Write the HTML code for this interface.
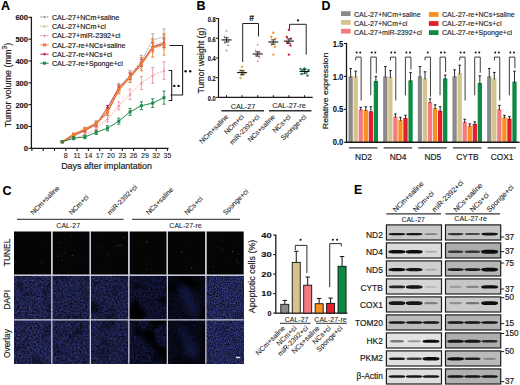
<!DOCTYPE html>
<html><head><meta charset="utf-8"><title>Figure</title>
<style>html,body{margin:0;padding:0;background:#fff;}body{width:520px;height:385px;overflow:hidden;font-family:"Liberation Sans", sans-serif;}svg{display:block;}</style>
</head><body>
<svg width="520" height="385" viewBox="0 0 520 385" font-family='"Liberation Sans", sans-serif'><defs><filter id="f10" x="0" y="0" width="1" height="1" color-interpolation-filters="sRGB"><feTurbulence type="fractalNoise" baseFrequency="0.55" numOctaves="2" seed="11" result="n"/><feColorMatrix in="n" type="matrix" values="0.288 0 0 0 -0.024 0.324 0 0 0 -0.027 0.720 0 0 0 -0.060 0 0 0 0 1" result="c"/><feTurbulence type="fractalNoise" baseFrequency="0.07" numOctaves="2" seed="61" result="m"/><feColorMatrix in="m" type="matrix" values="1.200 0 0 0 0.400 1.200 0 0 0 0.400 1.200 0 0 0 0.400 0 0 0 0 1" result="mm"/><feComposite in="c" in2="mm" operator="arithmetic" k1="1" k2="0" k3="0" k4="0"/></filter><filter id="f11" x="0" y="0" width="1" height="1" color-interpolation-filters="sRGB"><feTurbulence type="fractalNoise" baseFrequency="0.55" numOctaves="2" seed="18" result="n"/><feColorMatrix in="n" type="matrix" values="0.264 0 0 0 -0.022 0.298 0 0 0 -0.025 0.672 0 0 0 -0.056 0 0 0 0 1" result="c"/><feTurbulence type="fractalNoise" baseFrequency="0.07" numOctaves="2" seed="68" result="m"/><feColorMatrix in="m" type="matrix" values="1.200 0 0 0 0.400 1.200 0 0 0 0.400 1.200 0 0 0 0.400 0 0 0 0 1" result="mm"/><feComposite in="c" in2="mm" operator="arithmetic" k1="1" k2="0" k3="0" k4="0"/></filter><filter id="f12" x="0" y="0" width="1" height="1" color-interpolation-filters="sRGB"><feTurbulence type="fractalNoise" baseFrequency="0.55" numOctaves="2" seed="25" result="n"/><feColorMatrix in="n" type="matrix" values="0.252 0 0 0 -0.021 0.283 0 0 0 -0.024 0.648 0 0 0 -0.054 0 0 0 0 1" result="c"/><feTurbulence type="fractalNoise" baseFrequency="0.05" numOctaves="2" seed="75" result="m"/><feColorMatrix in="m" type="matrix" values="1.800 0 0 0 0.100 1.800 0 0 0 0.100 1.800 0 0 0 0.100 0 0 0 0 1" result="mm"/><feComposite in="c" in2="mm" operator="arithmetic" k1="1" k2="0" k3="0" k4="0"/></filter><filter id="f13" x="0" y="0" width="1" height="1" color-interpolation-filters="sRGB"><feTurbulence type="fractalNoise" baseFrequency="0.55" numOctaves="2" seed="32" result="n"/><feColorMatrix in="n" type="matrix" values="0.165 0 0 0 -0.028 0.186 0 0 0 -0.031 0.495 0 0 0 -0.082 0 0 0 0 1" result="c"/><feTurbulence type="fractalNoise" baseFrequency="0.055" numOctaves="2" seed="82" result="m"/><feColorMatrix in="m" type="matrix" values="4.800 0 0 0 -1.400 4.800 0 0 0 -1.400 4.800 0 0 0 -1.400 0 0 0 0 1" result="mm"/><feComposite in="c" in2="mm" operator="arithmetic" k1="1" k2="0" k3="0" k4="0"/></filter><filter id="f14" x="0" y="0" width="1" height="1" color-interpolation-filters="sRGB"><feTurbulence type="fractalNoise" baseFrequency="0.55" numOctaves="2" seed="39" result="n"/><feColorMatrix in="n" type="matrix" values="0.098 0 0 0 -0.014 0.112 0 0 0 -0.016 0.280 0 0 0 -0.040 0 0 0 0 1" result="c"/><feTurbulence type="fractalNoise" baseFrequency="0.04" numOctaves="2" seed="89" result="m"/><feColorMatrix in="m" type="matrix" values="4.000 0 0 0 -1.000 4.000 0 0 0 -1.000 4.000 0 0 0 -1.000 0 0 0 0 1" result="mm"/><feComposite in="c" in2="mm" operator="arithmetic" k1="1" k2="0" k3="0" k4="0"/></filter><filter id="f15" x="0" y="0" width="1" height="1" color-interpolation-filters="sRGB"><feTurbulence type="fractalNoise" baseFrequency="0.85" numOctaves="2" seed="46" result="n"/><feColorMatrix in="n" type="matrix" values="0.338 0 0 0 -0.039 0.390 0 0 0 -0.045 0.884 0 0 0 -0.102 0 0 0 0 1" result="c"/><feTurbulence type="fractalNoise" baseFrequency="0.09" numOctaves="2" seed="96" result="m"/><feColorMatrix in="m" type="matrix" values="0.800 0 0 0 0.600 0.800 0 0 0 0.600 0.800 0 0 0 0.600 0 0 0 0 1" result="mm"/><feComposite in="c" in2="mm" operator="arithmetic" k1="1" k2="0" k3="0" k4="0"/></filter><filter id="f20" x="0" y="0" width="1" height="1" color-interpolation-filters="sRGB"><feTurbulence type="fractalNoise" baseFrequency="0.55" numOctaves="2" seed="12" result="n"/><feColorMatrix in="n" type="matrix" values="0.288 0 0 0 -0.024 0.324 0 0 0 -0.027 0.720 0 0 0 -0.060 0 0 0 0 1" result="c"/><feTurbulence type="fractalNoise" baseFrequency="0.07" numOctaves="2" seed="62" result="m"/><feColorMatrix in="m" type="matrix" values="1.200 0 0 0 0.400 1.200 0 0 0 0.400 1.200 0 0 0 0.400 0 0 0 0 1" result="mm"/><feComposite in="c" in2="mm" operator="arithmetic" k1="1" k2="0" k3="0" k4="0"/></filter><filter id="f21" x="0" y="0" width="1" height="1" color-interpolation-filters="sRGB"><feTurbulence type="fractalNoise" baseFrequency="0.55" numOctaves="2" seed="19" result="n"/><feColorMatrix in="n" type="matrix" values="0.264 0 0 0 -0.022 0.298 0 0 0 -0.025 0.672 0 0 0 -0.056 0 0 0 0 1" result="c"/><feTurbulence type="fractalNoise" baseFrequency="0.07" numOctaves="2" seed="69" result="m"/><feColorMatrix in="m" type="matrix" values="1.200 0 0 0 0.400 1.200 0 0 0 0.400 1.200 0 0 0 0.400 0 0 0 0 1" result="mm"/><feComposite in="c" in2="mm" operator="arithmetic" k1="1" k2="0" k3="0" k4="0"/></filter><filter id="f22" x="0" y="0" width="1" height="1" color-interpolation-filters="sRGB"><feTurbulence type="fractalNoise" baseFrequency="0.55" numOctaves="2" seed="26" result="n"/><feColorMatrix in="n" type="matrix" values="0.252 0 0 0 -0.021 0.283 0 0 0 -0.024 0.648 0 0 0 -0.054 0 0 0 0 1" result="c"/><feTurbulence type="fractalNoise" baseFrequency="0.05" numOctaves="2" seed="76" result="m"/><feColorMatrix in="m" type="matrix" values="1.800 0 0 0 0.100 1.800 0 0 0 0.100 1.800 0 0 0 0.100 0 0 0 0 1" result="mm"/><feComposite in="c" in2="mm" operator="arithmetic" k1="1" k2="0" k3="0" k4="0"/></filter><filter id="f23" x="0" y="0" width="1" height="1" color-interpolation-filters="sRGB"><feTurbulence type="fractalNoise" baseFrequency="0.55" numOctaves="2" seed="33" result="n"/><feColorMatrix in="n" type="matrix" values="0.165 0 0 0 -0.028 0.186 0 0 0 -0.031 0.495 0 0 0 -0.082 0 0 0 0 1" result="c"/><feTurbulence type="fractalNoise" baseFrequency="0.055" numOctaves="2" seed="83" result="m"/><feColorMatrix in="m" type="matrix" values="4.800 0 0 0 -1.400 4.800 0 0 0 -1.400 4.800 0 0 0 -1.400 0 0 0 0 1" result="mm"/><feComposite in="c" in2="mm" operator="arithmetic" k1="1" k2="0" k3="0" k4="0"/></filter><filter id="f24" x="0" y="0" width="1" height="1" color-interpolation-filters="sRGB"><feTurbulence type="fractalNoise" baseFrequency="0.55" numOctaves="2" seed="40" result="n"/><feColorMatrix in="n" type="matrix" values="0.098 0 0 0 -0.014 0.112 0 0 0 -0.016 0.280 0 0 0 -0.040 0 0 0 0 1" result="c"/><feTurbulence type="fractalNoise" baseFrequency="0.04" numOctaves="2" seed="90" result="m"/><feColorMatrix in="m" type="matrix" values="4.000 0 0 0 -1.000 4.000 0 0 0 -1.000 4.000 0 0 0 -1.000 0 0 0 0 1" result="mm"/><feComposite in="c" in2="mm" operator="arithmetic" k1="1" k2="0" k3="0" k4="0"/></filter><filter id="f25" x="0" y="0" width="1" height="1" color-interpolation-filters="sRGB"><feTurbulence type="fractalNoise" baseFrequency="0.85" numOctaves="2" seed="47" result="n"/><feColorMatrix in="n" type="matrix" values="0.338 0 0 0 -0.039 0.390 0 0 0 -0.045 0.884 0 0 0 -0.102 0 0 0 0 1" result="c"/><feTurbulence type="fractalNoise" baseFrequency="0.09" numOctaves="2" seed="97" result="m"/><feColorMatrix in="m" type="matrix" values="0.800 0 0 0 0.600 0.800 0 0 0 0.600 0.800 0 0 0 0.600 0 0 0 0 1" result="mm"/><feComposite in="c" in2="mm" operator="arithmetic" k1="1" k2="0" k3="0" k4="0"/></filter><filter id="strk" x="-50%" y="-50%" width="200%" height="200%"><feGaussianBlur stdDeviation="3"/></filter><clipPath id="cc4"><rect x="168.00" y="276.00" width="37.20" height="87.70"/></clipPath><filter id="bl" x="-20%" y="-100%" width="140%" height="300%"><feGaussianBlur stdDeviation="0.7"/></filter></defs><text x="0.90" y="9.90" font-size="12.5" text-anchor="start" font-weight="bold" fill="#000" stroke="#000" stroke-width="0.12">A</text>
<text x="196.40" y="10.10" font-size="12.5" text-anchor="start" font-weight="bold" fill="#000" stroke="#000" stroke-width="0.12">B</text>
<text x="321.50" y="9.90" font-size="12.3" text-anchor="start" font-weight="bold" fill="#000" stroke="#000" stroke-width="0.12">D</text>
<text x="2.60" y="194.70" font-size="12.5" text-anchor="start" font-weight="bold" fill="#000" stroke="#000" stroke-width="0.12">C</text>
<text x="354.00" y="193.50" font-size="12.3" text-anchor="start" font-weight="bold" fill="#000" stroke="#000" stroke-width="0.12">E</text>
<line x1="31.40" y1="16.82" x2="31.40" y2="148.80" stroke="#1a1a1a" stroke-width="1.3"/>
<line x1="28.40" y1="148.30" x2="31.40" y2="148.30" stroke="#1a1a1a" stroke-width="1.1"/>
<text x="28.00" y="151.20" font-size="7.6" text-anchor="end" font-weight="bold" fill="#111" stroke="#111" stroke-width="0.12">0</text>
<line x1="28.40" y1="126.47" x2="31.40" y2="126.47" stroke="#1a1a1a" stroke-width="1.1"/>
<text x="28.00" y="129.37" font-size="7.6" text-anchor="end" font-weight="bold" fill="#111" stroke="#111" stroke-width="0.12" textLength="12.6" lengthAdjust="spacingAndGlyphs">100</text>
<line x1="28.40" y1="104.64" x2="31.40" y2="104.64" stroke="#1a1a1a" stroke-width="1.1"/>
<text x="28.00" y="107.54" font-size="7.6" text-anchor="end" font-weight="bold" fill="#111" stroke="#111" stroke-width="0.12" textLength="12.6" lengthAdjust="spacingAndGlyphs">200</text>
<line x1="28.40" y1="82.81" x2="31.40" y2="82.81" stroke="#1a1a1a" stroke-width="1.1"/>
<text x="28.00" y="85.71" font-size="7.6" text-anchor="end" font-weight="bold" fill="#111" stroke="#111" stroke-width="0.12" textLength="12.6" lengthAdjust="spacingAndGlyphs">300</text>
<line x1="28.40" y1="60.98" x2="31.40" y2="60.98" stroke="#1a1a1a" stroke-width="1.1"/>
<text x="28.00" y="63.88" font-size="7.6" text-anchor="end" font-weight="bold" fill="#111" stroke="#111" stroke-width="0.12" textLength="12.6" lengthAdjust="spacingAndGlyphs">400</text>
<line x1="28.40" y1="39.15" x2="31.40" y2="39.15" stroke="#1a1a1a" stroke-width="1.1"/>
<text x="28.00" y="42.05" font-size="7.6" text-anchor="end" font-weight="bold" fill="#111" stroke="#111" stroke-width="0.12" textLength="12.6" lengthAdjust="spacingAndGlyphs">500</text>
<line x1="28.40" y1="17.32" x2="31.40" y2="17.32" stroke="#1a1a1a" stroke-width="1.1"/>
<text x="28.00" y="20.22" font-size="7.6" text-anchor="end" font-weight="bold" fill="#111" stroke="#111" stroke-width="0.12" textLength="12.6" lengthAdjust="spacingAndGlyphs">600</text>
<text x="10.60" y="85.00" font-size="9.0" text-anchor="middle" fill="#1a1a1a" stroke="#1a1a1a" stroke-width="0.18" transform="rotate(-90 10.6 85)">Tumor volume (mm<tspan font-size="6.6" dy="-3.4">3</tspan><tspan dy="3.4">)</tspan></text>
<line x1="30.80" y1="148.30" x2="168.50" y2="148.30" stroke="#1a1a1a" stroke-width="1.3"/>
<line x1="31.90" y1="148.30" x2="31.90" y2="150.90" stroke="#1a1a1a" stroke-width="1.1"/>
<line x1="43.20" y1="148.30" x2="43.20" y2="150.90" stroke="#1a1a1a" stroke-width="1.1"/>
<line x1="54.50" y1="148.30" x2="54.50" y2="150.90" stroke="#1a1a1a" stroke-width="1.1"/>
<line x1="65.80" y1="148.30" x2="65.80" y2="150.90" stroke="#1a1a1a" stroke-width="1.1"/>
<text x="65.80" y="158.30" font-size="7.0" text-anchor="middle" fill="#1a1a1a" stroke="#1a1a1a" stroke-width="0.081">8</text>
<line x1="77.10" y1="148.30" x2="77.10" y2="150.90" stroke="#1a1a1a" stroke-width="1.1"/>
<text x="77.10" y="158.30" font-size="7.0" text-anchor="middle" fill="#1a1a1a" stroke="#1a1a1a" stroke-width="0.081">11</text>
<line x1="88.40" y1="148.30" x2="88.40" y2="150.90" stroke="#1a1a1a" stroke-width="1.1"/>
<text x="88.40" y="158.30" font-size="7.0" text-anchor="middle" fill="#1a1a1a" stroke="#1a1a1a" stroke-width="0.081">14</text>
<line x1="99.70" y1="148.30" x2="99.70" y2="150.90" stroke="#1a1a1a" stroke-width="1.1"/>
<text x="99.70" y="158.30" font-size="7.0" text-anchor="middle" fill="#1a1a1a" stroke="#1a1a1a" stroke-width="0.081">17</text>
<line x1="111.00" y1="148.30" x2="111.00" y2="150.90" stroke="#1a1a1a" stroke-width="1.1"/>
<text x="111.00" y="158.30" font-size="7.0" text-anchor="middle" fill="#1a1a1a" stroke="#1a1a1a" stroke-width="0.081">20</text>
<line x1="122.30" y1="148.30" x2="122.30" y2="150.90" stroke="#1a1a1a" stroke-width="1.1"/>
<text x="122.30" y="158.30" font-size="7.0" text-anchor="middle" fill="#1a1a1a" stroke="#1a1a1a" stroke-width="0.081">23</text>
<line x1="133.60" y1="148.30" x2="133.60" y2="150.90" stroke="#1a1a1a" stroke-width="1.1"/>
<text x="133.60" y="158.30" font-size="7.0" text-anchor="middle" fill="#1a1a1a" stroke="#1a1a1a" stroke-width="0.081">26</text>
<line x1="144.90" y1="148.30" x2="144.90" y2="150.90" stroke="#1a1a1a" stroke-width="1.1"/>
<text x="144.90" y="158.30" font-size="7.0" text-anchor="middle" fill="#1a1a1a" stroke="#1a1a1a" stroke-width="0.081">29</text>
<line x1="156.20" y1="148.30" x2="156.20" y2="150.90" stroke="#1a1a1a" stroke-width="1.1"/>
<text x="156.20" y="158.30" font-size="7.0" text-anchor="middle" fill="#1a1a1a" stroke="#1a1a1a" stroke-width="0.081">32</text>
<line x1="167.50" y1="148.30" x2="167.50" y2="150.90" stroke="#1a1a1a" stroke-width="1.1"/>
<text x="167.50" y="158.30" font-size="7.0" text-anchor="middle" fill="#1a1a1a" stroke="#1a1a1a" stroke-width="0.081">35</text>
<text x="106.60" y="169.40" font-size="8.9" text-anchor="middle" fill="#1a1a1a" stroke="#1a1a1a" stroke-width="0.18">Days after implantation</text>
<line x1="62.30" y1="141.10" x2="62.30" y2="142.41" stroke="#b0a0a8" stroke-width="0.9"/>
<line x1="60.70" y1="141.10" x2="63.90" y2="141.10" stroke="#b0a0a8" stroke-width="0.9"/>
<line x1="60.70" y1="142.41" x2="63.90" y2="142.41" stroke="#b0a0a8" stroke-width="0.9"/>
<line x1="73.60" y1="133.46" x2="73.60" y2="136.08" stroke="#b0a0a8" stroke-width="0.9"/>
<line x1="72.00" y1="133.46" x2="75.20" y2="133.46" stroke="#b0a0a8" stroke-width="0.9"/>
<line x1="72.00" y1="136.08" x2="75.20" y2="136.08" stroke="#b0a0a8" stroke-width="0.9"/>
<line x1="84.90" y1="127.78" x2="84.90" y2="131.27" stroke="#b0a0a8" stroke-width="0.9"/>
<line x1="83.30" y1="127.78" x2="86.50" y2="127.78" stroke="#b0a0a8" stroke-width="0.9"/>
<line x1="83.30" y1="131.27" x2="86.50" y2="131.27" stroke="#b0a0a8" stroke-width="0.9"/>
<line x1="96.20" y1="120.79" x2="96.20" y2="125.16" stroke="#b0a0a8" stroke-width="0.9"/>
<line x1="94.60" y1="120.79" x2="97.80" y2="120.79" stroke="#b0a0a8" stroke-width="0.9"/>
<line x1="94.60" y1="125.16" x2="97.80" y2="125.16" stroke="#b0a0a8" stroke-width="0.9"/>
<line x1="107.50" y1="107.70" x2="107.50" y2="113.81" stroke="#b0a0a8" stroke-width="0.9"/>
<line x1="105.90" y1="107.70" x2="109.10" y2="107.70" stroke="#b0a0a8" stroke-width="0.9"/>
<line x1="105.90" y1="113.81" x2="109.10" y2="113.81" stroke="#b0a0a8" stroke-width="0.9"/>
<line x1="118.80" y1="83.25" x2="118.80" y2="91.11" stroke="#b0a0a8" stroke-width="0.9"/>
<line x1="117.20" y1="83.25" x2="120.40" y2="83.25" stroke="#b0a0a8" stroke-width="0.9"/>
<line x1="117.20" y1="91.11" x2="120.40" y2="91.11" stroke="#b0a0a8" stroke-width="0.9"/>
<line x1="130.10" y1="70.37" x2="130.10" y2="79.97" stroke="#b0a0a8" stroke-width="0.9"/>
<line x1="128.50" y1="70.37" x2="131.70" y2="70.37" stroke="#b0a0a8" stroke-width="0.9"/>
<line x1="128.50" y1="79.97" x2="131.70" y2="79.97" stroke="#b0a0a8" stroke-width="0.9"/>
<line x1="141.40" y1="55.30" x2="141.40" y2="66.66" stroke="#b0a0a8" stroke-width="0.9"/>
<line x1="139.80" y1="55.30" x2="143.00" y2="55.30" stroke="#b0a0a8" stroke-width="0.9"/>
<line x1="139.80" y1="66.66" x2="143.00" y2="66.66" stroke="#b0a0a8" stroke-width="0.9"/>
<line x1="152.70" y1="33.69" x2="152.70" y2="46.79" stroke="#b0a0a8" stroke-width="0.9"/>
<line x1="151.10" y1="33.69" x2="154.30" y2="33.69" stroke="#b0a0a8" stroke-width="0.9"/>
<line x1="151.10" y1="46.79" x2="154.30" y2="46.79" stroke="#b0a0a8" stroke-width="0.9"/>
<line x1="164.00" y1="28.89" x2="164.00" y2="44.17" stroke="#b0a0a8" stroke-width="0.9"/>
<line x1="162.40" y1="28.89" x2="165.60" y2="28.89" stroke="#b0a0a8" stroke-width="0.9"/>
<line x1="162.40" y1="44.17" x2="165.60" y2="44.17" stroke="#b0a0a8" stroke-width="0.9"/>
<polyline points="62.30,141.75 73.60,134.77 84.90,129.53 96.20,122.98 107.50,110.75 118.80,87.18 130.10,75.17 141.40,60.98 152.70,40.24 164.00,36.53" fill="none" stroke="#8c8ca8" stroke-width="0.8" stroke-dasharray="2.2,1.2"/>
<polygon points="62.30,140.25 60.80,142.95 63.80,142.95" fill="#b0a0a8"/>
<polygon points="73.60,133.27 72.10,135.97 75.10,135.97" fill="#b0a0a8"/>
<polygon points="84.90,128.03 83.40,130.73 86.40,130.73" fill="#b0a0a8"/>
<polygon points="96.20,121.48 94.70,124.18 97.70,124.18" fill="#b0a0a8"/>
<polygon points="107.50,109.25 106.00,111.95 109.00,111.95" fill="#b0a0a8"/>
<polygon points="118.80,85.68 117.30,88.38 120.30,88.38" fill="#b0a0a8"/>
<polygon points="130.10,73.67 128.60,76.37 131.60,76.37" fill="#b0a0a8"/>
<polygon points="141.40,59.48 139.90,62.18 142.90,62.18" fill="#b0a0a8"/>
<polygon points="152.70,38.74 151.20,41.44 154.20,41.44" fill="#b0a0a8"/>
<polygon points="164.00,35.03 162.50,37.73 165.50,37.73" fill="#b0a0a8"/>
<line x1="62.30" y1="141.10" x2="62.30" y2="142.41" stroke="#e0b080" stroke-width="0.9"/>
<line x1="60.70" y1="141.10" x2="63.90" y2="141.10" stroke="#e0b080" stroke-width="0.9"/>
<line x1="60.70" y1="142.41" x2="63.90" y2="142.41" stroke="#e0b080" stroke-width="0.9"/>
<line x1="73.60" y1="134.98" x2="73.60" y2="137.60" stroke="#e0b080" stroke-width="0.9"/>
<line x1="72.00" y1="134.98" x2="75.20" y2="134.98" stroke="#e0b080" stroke-width="0.9"/>
<line x1="72.00" y1="137.60" x2="75.20" y2="137.60" stroke="#e0b080" stroke-width="0.9"/>
<line x1="84.90" y1="129.53" x2="84.90" y2="133.02" stroke="#e0b080" stroke-width="0.9"/>
<line x1="83.30" y1="129.53" x2="86.50" y2="129.53" stroke="#e0b080" stroke-width="0.9"/>
<line x1="83.30" y1="133.02" x2="86.50" y2="133.02" stroke="#e0b080" stroke-width="0.9"/>
<line x1="96.20" y1="123.20" x2="96.20" y2="127.56" stroke="#e0b080" stroke-width="0.9"/>
<line x1="94.60" y1="123.20" x2="97.80" y2="123.20" stroke="#e0b080" stroke-width="0.9"/>
<line x1="94.60" y1="127.56" x2="97.80" y2="127.56" stroke="#e0b080" stroke-width="0.9"/>
<line x1="107.50" y1="109.22" x2="107.50" y2="115.34" stroke="#e0b080" stroke-width="0.9"/>
<line x1="105.90" y1="109.22" x2="109.10" y2="109.22" stroke="#e0b080" stroke-width="0.9"/>
<line x1="105.90" y1="115.34" x2="109.10" y2="115.34" stroke="#e0b080" stroke-width="0.9"/>
<line x1="118.80" y1="85.87" x2="118.80" y2="93.73" stroke="#e0b080" stroke-width="0.9"/>
<line x1="117.20" y1="85.87" x2="120.40" y2="85.87" stroke="#e0b080" stroke-width="0.9"/>
<line x1="117.20" y1="93.73" x2="120.40" y2="93.73" stroke="#e0b080" stroke-width="0.9"/>
<line x1="130.10" y1="72.55" x2="130.10" y2="82.16" stroke="#e0b080" stroke-width="0.9"/>
<line x1="128.50" y1="72.55" x2="131.70" y2="72.55" stroke="#e0b080" stroke-width="0.9"/>
<line x1="128.50" y1="82.16" x2="131.70" y2="82.16" stroke="#e0b080" stroke-width="0.9"/>
<line x1="141.40" y1="57.49" x2="141.40" y2="68.84" stroke="#e0b080" stroke-width="0.9"/>
<line x1="139.80" y1="57.49" x2="143.00" y2="57.49" stroke="#e0b080" stroke-width="0.9"/>
<line x1="139.80" y1="68.84" x2="143.00" y2="68.84" stroke="#e0b080" stroke-width="0.9"/>
<line x1="152.70" y1="39.15" x2="152.70" y2="52.25" stroke="#e0b080" stroke-width="0.9"/>
<line x1="151.10" y1="39.15" x2="154.30" y2="39.15" stroke="#e0b080" stroke-width="0.9"/>
<line x1="151.10" y1="52.25" x2="154.30" y2="52.25" stroke="#e0b080" stroke-width="0.9"/>
<line x1="164.00" y1="33.69" x2="164.00" y2="48.97" stroke="#e0b080" stroke-width="0.9"/>
<line x1="162.40" y1="33.69" x2="165.60" y2="33.69" stroke="#e0b080" stroke-width="0.9"/>
<line x1="162.40" y1="48.97" x2="165.60" y2="48.97" stroke="#e0b080" stroke-width="0.9"/>
<polyline points="62.30,141.75 73.60,136.29 84.90,131.27 96.20,125.38 107.50,112.28 118.80,89.80 130.10,77.35 141.40,63.16 152.70,45.70 164.00,41.33" fill="none" stroke="#b8c898" stroke-width="0.8" stroke-dasharray="2.2,1.2"/>
<polygon points="62.30,140.25 60.80,142.95 63.80,142.95" fill="#e0b080"/>
<polygon points="73.60,134.79 72.10,137.49 75.10,137.49" fill="#e0b080"/>
<polygon points="84.90,129.77 83.40,132.47 86.40,132.47" fill="#e0b080"/>
<polygon points="96.20,123.88 94.70,126.58 97.70,126.58" fill="#e0b080"/>
<polygon points="107.50,110.78 106.00,113.48 109.00,113.48" fill="#e0b080"/>
<polygon points="118.80,88.30 117.30,91.00 120.30,91.00" fill="#e0b080"/>
<polygon points="130.10,75.85 128.60,78.55 131.60,78.55" fill="#e0b080"/>
<polygon points="141.40,61.66 139.90,64.36 142.90,64.36" fill="#e0b080"/>
<polygon points="152.70,44.20 151.20,46.90 154.20,46.90" fill="#e0b080"/>
<polygon points="164.00,39.83 162.50,42.53 165.50,42.53" fill="#e0b080"/>
<line x1="62.30" y1="141.10" x2="62.30" y2="142.41" stroke="#f0909a" stroke-width="0.9"/>
<line x1="60.70" y1="141.10" x2="63.90" y2="141.10" stroke="#f0909a" stroke-width="0.9"/>
<line x1="60.70" y1="142.41" x2="63.90" y2="142.41" stroke="#f0909a" stroke-width="0.9"/>
<line x1="73.60" y1="137.17" x2="73.60" y2="139.79" stroke="#f0909a" stroke-width="0.9"/>
<line x1="72.00" y1="137.17" x2="75.20" y2="137.17" stroke="#f0909a" stroke-width="0.9"/>
<line x1="72.00" y1="139.79" x2="75.20" y2="139.79" stroke="#f0909a" stroke-width="0.9"/>
<line x1="84.90" y1="133.02" x2="84.90" y2="136.51" stroke="#f0909a" stroke-width="0.9"/>
<line x1="83.30" y1="133.02" x2="86.50" y2="133.02" stroke="#f0909a" stroke-width="0.9"/>
<line x1="83.30" y1="136.51" x2="86.50" y2="136.51" stroke="#f0909a" stroke-width="0.9"/>
<line x1="96.20" y1="126.91" x2="96.20" y2="131.27" stroke="#f0909a" stroke-width="0.9"/>
<line x1="94.60" y1="126.91" x2="97.80" y2="126.91" stroke="#f0909a" stroke-width="0.9"/>
<line x1="94.60" y1="131.27" x2="97.80" y2="131.27" stroke="#f0909a" stroke-width="0.9"/>
<line x1="107.50" y1="115.77" x2="107.50" y2="121.89" stroke="#f0909a" stroke-width="0.9"/>
<line x1="105.90" y1="115.77" x2="109.10" y2="115.77" stroke="#f0909a" stroke-width="0.9"/>
<line x1="105.90" y1="121.89" x2="109.10" y2="121.89" stroke="#f0909a" stroke-width="0.9"/>
<line x1="118.80" y1="101.80" x2="118.80" y2="109.66" stroke="#f0909a" stroke-width="0.9"/>
<line x1="117.20" y1="101.80" x2="120.40" y2="101.80" stroke="#f0909a" stroke-width="0.9"/>
<line x1="117.20" y1="109.66" x2="120.40" y2="109.66" stroke="#f0909a" stroke-width="0.9"/>
<line x1="130.10" y1="89.14" x2="130.10" y2="99.62" stroke="#f0909a" stroke-width="0.9"/>
<line x1="128.50" y1="89.14" x2="131.70" y2="89.14" stroke="#f0909a" stroke-width="0.9"/>
<line x1="128.50" y1="99.62" x2="131.70" y2="99.62" stroke="#f0909a" stroke-width="0.9"/>
<line x1="141.40" y1="76.48" x2="141.40" y2="89.58" stroke="#f0909a" stroke-width="0.9"/>
<line x1="139.80" y1="76.48" x2="143.00" y2="76.48" stroke="#f0909a" stroke-width="0.9"/>
<line x1="139.80" y1="89.58" x2="143.00" y2="89.58" stroke="#f0909a" stroke-width="0.9"/>
<line x1="152.70" y1="67.53" x2="152.70" y2="83.25" stroke="#f0909a" stroke-width="0.9"/>
<line x1="151.10" y1="67.53" x2="154.30" y2="67.53" stroke="#f0909a" stroke-width="0.9"/>
<line x1="151.10" y1="83.25" x2="154.30" y2="83.25" stroke="#f0909a" stroke-width="0.9"/>
<line x1="164.00" y1="61.85" x2="164.00" y2="79.32" stroke="#f0909a" stroke-width="0.9"/>
<line x1="162.40" y1="61.85" x2="165.60" y2="61.85" stroke="#f0909a" stroke-width="0.9"/>
<line x1="162.40" y1="79.32" x2="165.60" y2="79.32" stroke="#f0909a" stroke-width="0.9"/>
<polyline points="62.30,141.75 73.60,138.48 84.90,134.77 96.20,129.09 107.50,118.83 118.80,105.73 130.10,94.38 141.40,83.03 152.70,75.39 164.00,70.59" fill="none" stroke="#f0909a" stroke-width="0.8" stroke-dasharray="2.2,1.2"/>
<polygon points="62.30,140.25 60.80,142.95 63.80,142.95" fill="#f0909a"/>
<polygon points="73.60,136.98 72.10,139.68 75.10,139.68" fill="#f0909a"/>
<polygon points="84.90,133.27 83.40,135.97 86.40,135.97" fill="#f0909a"/>
<polygon points="96.20,127.59 94.70,130.29 97.70,130.29" fill="#f0909a"/>
<polygon points="107.50,117.33 106.00,120.03 109.00,120.03" fill="#f0909a"/>
<polygon points="118.80,104.23 117.30,106.93 120.30,106.93" fill="#f0909a"/>
<polygon points="130.10,92.88 128.60,95.58 131.60,95.58" fill="#f0909a"/>
<polygon points="141.40,81.53 139.90,84.23 142.90,84.23" fill="#f0909a"/>
<polygon points="152.70,73.89 151.20,76.59 154.20,76.59" fill="#f0909a"/>
<polygon points="164.00,69.09 162.50,71.79 165.50,71.79" fill="#f0909a"/>
<line x1="62.30" y1="141.53" x2="62.30" y2="142.84" stroke="#b52a4a" stroke-width="0.9"/>
<line x1="60.70" y1="141.53" x2="63.90" y2="141.53" stroke="#b52a4a" stroke-width="0.9"/>
<line x1="60.70" y1="142.84" x2="63.90" y2="142.84" stroke="#b52a4a" stroke-width="0.9"/>
<line x1="73.60" y1="134.55" x2="73.60" y2="136.73" stroke="#b52a4a" stroke-width="0.9"/>
<line x1="72.00" y1="134.55" x2="75.20" y2="134.55" stroke="#b52a4a" stroke-width="0.9"/>
<line x1="72.00" y1="136.73" x2="75.20" y2="136.73" stroke="#b52a4a" stroke-width="0.9"/>
<line x1="84.90" y1="129.09" x2="84.90" y2="131.71" stroke="#b52a4a" stroke-width="0.9"/>
<line x1="83.30" y1="129.09" x2="86.50" y2="129.09" stroke="#b52a4a" stroke-width="0.9"/>
<line x1="83.30" y1="131.71" x2="86.50" y2="131.71" stroke="#b52a4a" stroke-width="0.9"/>
<line x1="96.20" y1="122.54" x2="96.20" y2="126.03" stroke="#b52a4a" stroke-width="0.9"/>
<line x1="94.60" y1="122.54" x2="97.80" y2="122.54" stroke="#b52a4a" stroke-width="0.9"/>
<line x1="94.60" y1="126.03" x2="97.80" y2="126.03" stroke="#b52a4a" stroke-width="0.9"/>
<line x1="107.50" y1="105.51" x2="107.50" y2="109.88" stroke="#b52a4a" stroke-width="0.9"/>
<line x1="105.90" y1="105.51" x2="109.10" y2="105.51" stroke="#b52a4a" stroke-width="0.9"/>
<line x1="105.90" y1="109.88" x2="109.10" y2="109.88" stroke="#b52a4a" stroke-width="0.9"/>
<line x1="118.80" y1="84.99" x2="118.80" y2="90.23" stroke="#b52a4a" stroke-width="0.9"/>
<line x1="117.20" y1="84.99" x2="120.40" y2="84.99" stroke="#b52a4a" stroke-width="0.9"/>
<line x1="117.20" y1="90.23" x2="120.40" y2="90.23" stroke="#b52a4a" stroke-width="0.9"/>
<line x1="130.10" y1="73.20" x2="130.10" y2="79.32" stroke="#b52a4a" stroke-width="0.9"/>
<line x1="128.50" y1="73.20" x2="131.70" y2="73.20" stroke="#b52a4a" stroke-width="0.9"/>
<line x1="128.50" y1="79.32" x2="131.70" y2="79.32" stroke="#b52a4a" stroke-width="0.9"/>
<line x1="141.40" y1="59.23" x2="141.40" y2="66.22" stroke="#b52a4a" stroke-width="0.9"/>
<line x1="139.80" y1="59.23" x2="143.00" y2="59.23" stroke="#b52a4a" stroke-width="0.9"/>
<line x1="139.80" y1="66.22" x2="143.00" y2="66.22" stroke="#b52a4a" stroke-width="0.9"/>
<line x1="152.70" y1="42.86" x2="152.70" y2="50.72" stroke="#b52a4a" stroke-width="0.9"/>
<line x1="151.10" y1="42.86" x2="154.30" y2="42.86" stroke="#b52a4a" stroke-width="0.9"/>
<line x1="151.10" y1="50.72" x2="154.30" y2="50.72" stroke="#b52a4a" stroke-width="0.9"/>
<line x1="164.00" y1="38.71" x2="164.00" y2="47.45" stroke="#b52a4a" stroke-width="0.9"/>
<line x1="162.40" y1="38.71" x2="165.60" y2="38.71" stroke="#b52a4a" stroke-width="0.9"/>
<line x1="162.40" y1="47.45" x2="165.60" y2="47.45" stroke="#b52a4a" stroke-width="0.9"/>
<polyline points="62.30,142.19 73.60,135.64 84.90,130.40 96.20,124.29 107.50,107.70 118.80,87.61 130.10,76.26 141.40,62.73 152.70,46.79 164.00,43.08" fill="none" stroke="#b52a4a" stroke-width="0.9"/>
<polygon points="62.30,140.54 60.80,142.19 62.30,143.84 63.80,142.19" fill="#b52a4a"/>
<polygon points="73.60,133.99 72.10,135.64 73.60,137.29 75.10,135.64" fill="#b52a4a"/>
<polygon points="84.90,128.75 83.40,130.40 84.90,132.05 86.40,130.40" fill="#b52a4a"/>
<polygon points="96.20,122.64 94.70,124.29 96.20,125.94 97.70,124.29" fill="#b52a4a"/>
<polygon points="107.50,106.05 106.00,107.70 107.50,109.35 109.00,107.70" fill="#b52a4a"/>
<polygon points="118.80,85.96 117.30,87.61 118.80,89.26 120.30,87.61" fill="#b52a4a"/>
<polygon points="130.10,74.61 128.60,76.26 130.10,77.91 131.60,76.26" fill="#b52a4a"/>
<polygon points="141.40,61.08 139.90,62.73 141.40,64.38 142.90,62.73" fill="#b52a4a"/>
<polygon points="152.70,45.14 151.20,46.79 152.70,48.44 154.20,46.79" fill="#b52a4a"/>
<polygon points="164.00,41.43 162.50,43.08 164.00,44.73 165.50,43.08" fill="#b52a4a"/>
<line x1="62.30" y1="141.10" x2="62.30" y2="142.41" stroke="#f07f35" stroke-width="0.9"/>
<line x1="60.70" y1="141.10" x2="63.90" y2="141.10" stroke="#f07f35" stroke-width="0.9"/>
<line x1="60.70" y1="142.41" x2="63.90" y2="142.41" stroke="#f07f35" stroke-width="0.9"/>
<line x1="73.60" y1="133.02" x2="73.60" y2="135.64" stroke="#f07f35" stroke-width="0.9"/>
<line x1="72.00" y1="133.02" x2="75.20" y2="133.02" stroke="#f07f35" stroke-width="0.9"/>
<line x1="72.00" y1="135.64" x2="75.20" y2="135.64" stroke="#f07f35" stroke-width="0.9"/>
<line x1="84.90" y1="127.34" x2="84.90" y2="130.84" stroke="#f07f35" stroke-width="0.9"/>
<line x1="83.30" y1="127.34" x2="86.50" y2="127.34" stroke="#f07f35" stroke-width="0.9"/>
<line x1="83.30" y1="130.84" x2="86.50" y2="130.84" stroke="#f07f35" stroke-width="0.9"/>
<line x1="96.20" y1="121.23" x2="96.20" y2="125.60" stroke="#f07f35" stroke-width="0.9"/>
<line x1="94.60" y1="121.23" x2="97.80" y2="121.23" stroke="#f07f35" stroke-width="0.9"/>
<line x1="94.60" y1="125.60" x2="97.80" y2="125.60" stroke="#f07f35" stroke-width="0.9"/>
<line x1="107.50" y1="109.22" x2="107.50" y2="115.34" stroke="#f07f35" stroke-width="0.9"/>
<line x1="105.90" y1="109.22" x2="109.10" y2="109.22" stroke="#f07f35" stroke-width="0.9"/>
<line x1="105.90" y1="115.34" x2="109.10" y2="115.34" stroke="#f07f35" stroke-width="0.9"/>
<line x1="118.80" y1="85.87" x2="118.80" y2="93.73" stroke="#f07f35" stroke-width="0.9"/>
<line x1="117.20" y1="85.87" x2="120.40" y2="85.87" stroke="#f07f35" stroke-width="0.9"/>
<line x1="117.20" y1="93.73" x2="120.40" y2="93.73" stroke="#f07f35" stroke-width="0.9"/>
<line x1="130.10" y1="72.11" x2="130.10" y2="82.59" stroke="#f07f35" stroke-width="0.9"/>
<line x1="128.50" y1="72.11" x2="131.70" y2="72.11" stroke="#f07f35" stroke-width="0.9"/>
<line x1="128.50" y1="82.59" x2="131.70" y2="82.59" stroke="#f07f35" stroke-width="0.9"/>
<line x1="141.40" y1="57.71" x2="141.40" y2="70.80" stroke="#f07f35" stroke-width="0.9"/>
<line x1="139.80" y1="57.71" x2="143.00" y2="57.71" stroke="#f07f35" stroke-width="0.9"/>
<line x1="139.80" y1="70.80" x2="143.00" y2="70.80" stroke="#f07f35" stroke-width="0.9"/>
<line x1="152.70" y1="38.71" x2="152.70" y2="57.05" stroke="#f07f35" stroke-width="0.9"/>
<line x1="151.10" y1="38.71" x2="154.30" y2="38.71" stroke="#f07f35" stroke-width="0.9"/>
<line x1="151.10" y1="57.05" x2="154.30" y2="57.05" stroke="#f07f35" stroke-width="0.9"/>
<line x1="164.00" y1="34.13" x2="164.00" y2="55.09" stroke="#f07f35" stroke-width="0.9"/>
<line x1="162.40" y1="34.13" x2="165.60" y2="34.13" stroke="#f07f35" stroke-width="0.9"/>
<line x1="162.40" y1="55.09" x2="165.60" y2="55.09" stroke="#f07f35" stroke-width="0.9"/>
<polyline points="62.30,141.75 73.60,134.33 84.90,129.09 96.20,123.41 107.50,112.28 118.80,89.80 130.10,77.35 141.40,64.25 152.70,47.88 164.00,44.61" fill="none" stroke="#f07f35" stroke-width="1.5"/>
<rect x="60.80" y="140.25" width="3.00" height="3.00" fill="#f07f35"/>
<rect x="72.10" y="132.83" width="3.00" height="3.00" fill="#f07f35"/>
<rect x="83.40" y="127.59" width="3.00" height="3.00" fill="#f07f35"/>
<rect x="94.70" y="121.91" width="3.00" height="3.00" fill="#f07f35"/>
<rect x="106.00" y="110.78" width="3.00" height="3.00" fill="#f07f35"/>
<rect x="117.30" y="88.30" width="3.00" height="3.00" fill="#f07f35"/>
<rect x="128.60" y="75.85" width="3.00" height="3.00" fill="#f07f35"/>
<rect x="139.90" y="62.75" width="3.00" height="3.00" fill="#f07f35"/>
<rect x="151.20" y="46.38" width="3.00" height="3.00" fill="#f07f35"/>
<rect x="162.50" y="43.11" width="3.00" height="3.00" fill="#f07f35"/>
<line x1="62.30" y1="141.10" x2="62.30" y2="142.41" stroke="#1f8a4c" stroke-width="0.9"/>
<line x1="60.70" y1="141.10" x2="63.90" y2="141.10" stroke="#1f8a4c" stroke-width="0.9"/>
<line x1="60.70" y1="142.41" x2="63.90" y2="142.41" stroke="#1f8a4c" stroke-width="0.9"/>
<line x1="73.60" y1="136.95" x2="73.60" y2="139.57" stroke="#1f8a4c" stroke-width="0.9"/>
<line x1="72.00" y1="136.95" x2="75.20" y2="136.95" stroke="#1f8a4c" stroke-width="0.9"/>
<line x1="72.00" y1="139.57" x2="75.20" y2="139.57" stroke="#1f8a4c" stroke-width="0.9"/>
<line x1="84.90" y1="135.20" x2="84.90" y2="138.69" stroke="#1f8a4c" stroke-width="0.9"/>
<line x1="83.30" y1="135.20" x2="86.50" y2="135.20" stroke="#1f8a4c" stroke-width="0.9"/>
<line x1="83.30" y1="138.69" x2="86.50" y2="138.69" stroke="#1f8a4c" stroke-width="0.9"/>
<line x1="96.20" y1="130.18" x2="96.20" y2="134.55" stroke="#1f8a4c" stroke-width="0.9"/>
<line x1="94.60" y1="130.18" x2="97.80" y2="130.18" stroke="#1f8a4c" stroke-width="0.9"/>
<line x1="94.60" y1="134.55" x2="97.80" y2="134.55" stroke="#1f8a4c" stroke-width="0.9"/>
<line x1="107.50" y1="125.60" x2="107.50" y2="130.84" stroke="#1f8a4c" stroke-width="0.9"/>
<line x1="105.90" y1="125.60" x2="109.10" y2="125.60" stroke="#1f8a4c" stroke-width="0.9"/>
<line x1="105.90" y1="130.84" x2="109.10" y2="130.84" stroke="#1f8a4c" stroke-width="0.9"/>
<line x1="118.80" y1="118.17" x2="118.80" y2="124.29" stroke="#1f8a4c" stroke-width="0.9"/>
<line x1="117.20" y1="118.17" x2="120.40" y2="118.17" stroke="#1f8a4c" stroke-width="0.9"/>
<line x1="117.20" y1="124.29" x2="120.40" y2="124.29" stroke="#1f8a4c" stroke-width="0.9"/>
<line x1="130.10" y1="108.35" x2="130.10" y2="115.34" stroke="#1f8a4c" stroke-width="0.9"/>
<line x1="128.50" y1="108.35" x2="131.70" y2="108.35" stroke="#1f8a4c" stroke-width="0.9"/>
<line x1="128.50" y1="115.34" x2="131.70" y2="115.34" stroke="#1f8a4c" stroke-width="0.9"/>
<line x1="141.40" y1="101.80" x2="141.40" y2="109.66" stroke="#1f8a4c" stroke-width="0.9"/>
<line x1="139.80" y1="101.80" x2="143.00" y2="101.80" stroke="#1f8a4c" stroke-width="0.9"/>
<line x1="139.80" y1="109.66" x2="143.00" y2="109.66" stroke="#1f8a4c" stroke-width="0.9"/>
<line x1="152.70" y1="98.75" x2="152.70" y2="107.48" stroke="#1f8a4c" stroke-width="0.9"/>
<line x1="151.10" y1="98.75" x2="154.30" y2="98.75" stroke="#1f8a4c" stroke-width="0.9"/>
<line x1="151.10" y1="107.48" x2="154.30" y2="107.48" stroke="#1f8a4c" stroke-width="0.9"/>
<line x1="164.00" y1="91.11" x2="164.00" y2="104.20" stroke="#1f8a4c" stroke-width="0.9"/>
<line x1="162.40" y1="91.11" x2="165.60" y2="91.11" stroke="#1f8a4c" stroke-width="0.9"/>
<line x1="162.40" y1="104.20" x2="165.60" y2="104.20" stroke="#1f8a4c" stroke-width="0.9"/>
<polyline points="62.30,141.75 73.60,138.26 84.90,136.95 96.20,132.36 107.50,128.22 118.80,121.23 130.10,111.84 141.40,105.73 152.70,103.11 164.00,97.65" fill="none" stroke="#1f8a4c" stroke-width="1.0"/>
<rect x="60.80" y="140.25" width="3.00" height="3.00" fill="#1f8a4c"/>
<rect x="72.10" y="136.76" width="3.00" height="3.00" fill="#1f8a4c"/>
<rect x="83.40" y="135.45" width="3.00" height="3.00" fill="#1f8a4c"/>
<rect x="94.70" y="130.86" width="3.00" height="3.00" fill="#1f8a4c"/>
<rect x="106.00" y="126.72" width="3.00" height="3.00" fill="#1f8a4c"/>
<rect x="117.30" y="119.73" width="3.00" height="3.00" fill="#1f8a4c"/>
<rect x="128.60" y="110.34" width="3.00" height="3.00" fill="#1f8a4c"/>
<rect x="139.90" y="104.23" width="3.00" height="3.00" fill="#1f8a4c"/>
<rect x="151.20" y="101.61" width="3.00" height="3.00" fill="#1f8a4c"/>
<rect x="162.50" y="96.15" width="3.00" height="3.00" fill="#1f8a4c"/>
<line x1="40.40" y1="16.90" x2="48.60" y2="16.90" stroke="#8c8ca8" stroke-width="1.0" stroke-dasharray="2,1"/>
<polygon points="44.50,15.40 43.00,18.10 46.00,18.10" fill="#8c8ca8"/>
<text x="51.90" y="19.60" font-size="7.5" text-anchor="start" fill="#1a1a1a" stroke="#1a1a1a" stroke-width="0.18" textLength="67.28" lengthAdjust="spacingAndGlyphs">CAL-27+NCm+saline</text>
<line x1="40.40" y1="26.20" x2="48.60" y2="26.20" stroke="#b8c898" stroke-width="1.0" stroke-dasharray="2,1"/>
<polygon points="44.50,24.70 43.00,27.40 46.00,27.40" fill="#b8c898"/>
<text x="51.90" y="28.90" font-size="7.5" text-anchor="start" fill="#1a1a1a" stroke="#1a1a1a" stroke-width="0.18" textLength="53.82" lengthAdjust="spacingAndGlyphs">CAL-27+NCm+ci</text>
<line x1="40.40" y1="35.60" x2="48.60" y2="35.60" stroke="#f0909a" stroke-width="1.0" stroke-dasharray="2,1"/>
<polygon points="44.50,34.10 43.00,36.80 46.00,36.80" fill="#f0909a"/>
<text x="51.90" y="38.30" font-size="7.5" text-anchor="start" fill="#1a1a1a" stroke="#1a1a1a" stroke-width="0.18" textLength="68.47" lengthAdjust="spacingAndGlyphs">CAL-27+miR-2392+ci</text>
<line x1="40.40" y1="44.90" x2="48.60" y2="44.90" stroke="#f07f35" stroke-width="1.0"/>
<rect x="43.00" y="43.40" width="3.00" height="3.00" fill="#f07f35"/>
<text x="51.90" y="47.60" font-size="7.5" text-anchor="start" fill="#1a1a1a" stroke="#1a1a1a" stroke-width="0.18" textLength="73.61" lengthAdjust="spacingAndGlyphs">CAL-27-re+NCs+saline</text>
<line x1="40.40" y1="54.20" x2="48.60" y2="54.20" stroke="#b52a4a" stroke-width="1.0"/>
<polygon points="44.50,52.55 43.00,54.20 44.50,55.85 46.00,54.20" fill="#b52a4a"/>
<text x="51.90" y="56.90" font-size="7.5" text-anchor="start" fill="#1a1a1a" stroke="#1a1a1a" stroke-width="0.18" textLength="60.15" lengthAdjust="spacingAndGlyphs">CAL-27-re+NCs+ci</text>
<line x1="40.40" y1="63.20" x2="48.60" y2="63.20" stroke="#1f8a4c" stroke-width="1.0"/>
<rect x="43.00" y="61.70" width="3.00" height="3.00" fill="#1f8a4c"/>
<text x="51.90" y="65.90" font-size="7.5" text-anchor="start" fill="#1a1a1a" stroke="#1a1a1a" stroke-width="0.18" textLength="70.85" lengthAdjust="spacingAndGlyphs">CAL-27-re+Sponge+ci</text>
<polyline points="169.50,45.50 182.60,45.50 182.60,95.00 170.50,95.00" fill="none" stroke="#222" stroke-width="1.1"/>
<circle cx="185.60" cy="71.20" r="1.20" fill="#111"/>
<circle cx="190.20" cy="71.20" r="1.20" fill="#111"/>
<polyline points="168.60,70.50 171.70,70.50 171.70,100.50 168.60,100.50" fill="none" stroke="#222" stroke-width="1.1"/>
<circle cx="174.30" cy="85.90" r="1.20" fill="#111"/>
<circle cx="178.60" cy="85.90" r="1.20" fill="#111"/>
<line x1="218.50" y1="18.10" x2="218.50" y2="97.90" stroke="#1a1a1a" stroke-width="1.2"/>
<line x1="216.00" y1="97.40" x2="218.50" y2="97.40" stroke="#1a1a1a" stroke-width="1.0"/>
<text x="215.70" y="100.60" font-size="7.4" text-anchor="end" font-weight="bold" fill="#111" stroke="#111" stroke-width="0.12" textLength="7.9" lengthAdjust="spacingAndGlyphs">0.0</text>
<line x1="216.00" y1="77.70" x2="218.50" y2="77.70" stroke="#1a1a1a" stroke-width="1.0"/>
<text x="215.70" y="80.90" font-size="7.4" text-anchor="end" font-weight="bold" fill="#111" stroke="#111" stroke-width="0.12" textLength="7.9" lengthAdjust="spacingAndGlyphs">0.2</text>
<line x1="216.00" y1="58.00" x2="218.50" y2="58.00" stroke="#1a1a1a" stroke-width="1.0"/>
<text x="215.70" y="61.20" font-size="7.4" text-anchor="end" font-weight="bold" fill="#111" stroke="#111" stroke-width="0.12" textLength="7.9" lengthAdjust="spacingAndGlyphs">0.4</text>
<line x1="216.00" y1="38.30" x2="218.50" y2="38.30" stroke="#1a1a1a" stroke-width="1.0"/>
<text x="215.70" y="41.50" font-size="7.4" text-anchor="end" font-weight="bold" fill="#111" stroke="#111" stroke-width="0.12" textLength="7.9" lengthAdjust="spacingAndGlyphs">0.6</text>
<line x1="216.00" y1="18.60" x2="218.50" y2="18.60" stroke="#1a1a1a" stroke-width="1.0"/>
<text x="215.70" y="21.80" font-size="7.4" text-anchor="end" font-weight="bold" fill="#111" stroke="#111" stroke-width="0.12" textLength="7.9" lengthAdjust="spacingAndGlyphs">0.8</text>
<text x="204.10" y="60.60" font-size="8.75" text-anchor="middle" fill="#1a1a1a" stroke="#1a1a1a" stroke-width="0.18" transform="rotate(-90 204.1 60.6)">Tumor weight (g)</text>
<line x1="218.00" y1="97.40" x2="312.70" y2="97.40" stroke="#1a1a1a" stroke-width="1.2"/>
<line x1="226.50" y1="95.20" x2="226.50" y2="97.40" stroke="#1a1a1a" stroke-width="1.0"/>
<line x1="242.10" y1="95.20" x2="242.10" y2="97.40" stroke="#1a1a1a" stroke-width="1.0"/>
<line x1="257.70" y1="95.20" x2="257.70" y2="97.40" stroke="#1a1a1a" stroke-width="1.0"/>
<line x1="273.30" y1="95.20" x2="273.30" y2="97.40" stroke="#1a1a1a" stroke-width="1.0"/>
<line x1="288.90" y1="95.20" x2="288.90" y2="97.40" stroke="#1a1a1a" stroke-width="1.0"/>
<line x1="304.50" y1="95.20" x2="304.50" y2="97.40" stroke="#1a1a1a" stroke-width="1.0"/>
<text x="243.00" y="108.50" font-size="7.3" text-anchor="middle" fill="#222" stroke="#222" stroke-width="0.081">CAL-27</text>
<text x="289.00" y="108.30" font-size="7.3" text-anchor="middle" fill="#222" stroke="#222" stroke-width="0.081">CAL-27-re</text>
<line x1="221.30" y1="110.80" x2="264.00" y2="110.80" stroke="#333" stroke-width="1.4"/>
<line x1="269.00" y1="110.80" x2="311.50" y2="110.80" stroke="#333" stroke-width="1.4"/>
<text x="228.80" y="117.40" font-size="6.9" text-anchor="end" fill="#222" stroke="#222" stroke-width="0.081" transform="rotate(-45 228.8 117.4)">NCm+saline</text>
<text x="244.40" y="117.40" font-size="6.9" text-anchor="end" fill="#222" stroke="#222" stroke-width="0.081" transform="rotate(-45 244.4 117.4)">NCm+ci</text>
<text x="260.00" y="117.40" font-size="6.9" text-anchor="end" fill="#222" stroke="#222" stroke-width="0.081" transform="rotate(-45 260.0 117.4)">miR-2392+ci</text>
<text x="275.60" y="117.40" font-size="6.9" text-anchor="end" fill="#222" stroke="#222" stroke-width="0.081" transform="rotate(-45 275.6 117.4)">NCs+saline</text>
<text x="291.20" y="117.40" font-size="6.9" text-anchor="end" fill="#222" stroke="#222" stroke-width="0.081" transform="rotate(-45 291.2 117.4)">NCs+ci</text>
<text x="306.80" y="117.40" font-size="6.9" text-anchor="end" fill="#222" stroke="#222" stroke-width="0.081" transform="rotate(-45 306.8 117.4)">Sponge+ci</text>
<polygon points="226.50,29.40 225.30,31.56 227.70,31.56" fill="#8a8a8a"/>
<polygon points="224.50,35.20 223.30,37.36 225.70,37.36" fill="#8a8a8a"/>
<polygon points="228.50,39.80 227.30,41.96 229.70,41.96" fill="#8a8a8a"/>
<polygon points="224.90,41.40 223.70,43.56 226.10,43.56" fill="#8a8a8a"/>
<polygon points="228.10,43.80 226.90,45.96 229.30,45.96" fill="#8a8a8a"/>
<polygon points="226.50,49.20 225.30,51.36 227.70,51.36" fill="#8a8a8a"/>
<line x1="221.50" y1="39.90" x2="231.50" y2="39.90" stroke="#111" stroke-width="1.1"/>
<line x1="226.50" y1="37.70" x2="226.50" y2="42.10" stroke="#111" stroke-width="0.8"/>
<line x1="224.30" y1="37.70" x2="228.70" y2="37.70" stroke="#111" stroke-width="0.8"/>
<line x1="224.30" y1="42.10" x2="228.70" y2="42.10" stroke="#111" stroke-width="0.8"/>
<circle cx="242.10" cy="66.70" r="1.20" fill="#c9b25a"/>
<circle cx="240.10" cy="70.60" r="1.20" fill="#c9b25a"/>
<circle cx="244.10" cy="73.70" r="1.20" fill="#c9b25a"/>
<circle cx="240.50" cy="78.00" r="1.20" fill="#c9b25a"/>
<circle cx="243.70" cy="72.00" r="1.20" fill="#c9b25a"/>
<circle cx="242.10" cy="74.50" r="1.20" fill="#c9b25a"/>
<line x1="237.10" y1="72.60" x2="247.10" y2="72.60" stroke="#111" stroke-width="1.1"/>
<line x1="242.10" y1="70.40" x2="242.10" y2="74.80" stroke="#111" stroke-width="0.8"/>
<line x1="239.90" y1="70.40" x2="244.30" y2="70.40" stroke="#111" stroke-width="0.8"/>
<line x1="239.90" y1="74.80" x2="244.30" y2="74.80" stroke="#111" stroke-width="0.8"/>
<polygon points="257.70,43.40 256.50,45.56 258.90,45.56" fill="#f08090"/>
<polygon points="255.70,49.20 254.50,51.36 256.90,51.36" fill="#f08090"/>
<polygon points="259.70,50.80 258.50,52.96 260.90,52.96" fill="#f08090"/>
<polygon points="256.10,53.80 254.90,55.96 257.30,55.96" fill="#f08090"/>
<polygon points="259.30,56.20 258.10,58.36 260.50,58.36" fill="#f08090"/>
<polygon points="257.70,59.60 256.50,61.76 258.90,61.76" fill="#f08090"/>
<line x1="252.70" y1="54.00" x2="262.70" y2="54.00" stroke="#111" stroke-width="1.1"/>
<line x1="257.70" y1="51.80" x2="257.70" y2="56.20" stroke="#111" stroke-width="0.8"/>
<line x1="255.50" y1="51.80" x2="259.90" y2="51.80" stroke="#111" stroke-width="0.8"/>
<line x1="255.50" y1="56.20" x2="259.90" y2="56.20" stroke="#111" stroke-width="0.8"/>
<circle cx="273.30" cy="32.70" r="1.20" fill="#f59a30"/>
<circle cx="271.30" cy="37.00" r="1.20" fill="#f59a30"/>
<circle cx="275.30" cy="38.60" r="1.20" fill="#f59a30"/>
<circle cx="271.70" cy="44.50" r="1.20" fill="#f59a30"/>
<circle cx="274.90" cy="46.70" r="1.20" fill="#f59a30"/>
<circle cx="273.30" cy="54.60" r="1.20" fill="#f59a30"/>
<line x1="268.30" y1="42.00" x2="278.30" y2="42.00" stroke="#111" stroke-width="1.1"/>
<line x1="273.30" y1="39.80" x2="273.30" y2="44.20" stroke="#111" stroke-width="0.8"/>
<line x1="271.10" y1="39.80" x2="275.50" y2="39.80" stroke="#111" stroke-width="0.8"/>
<line x1="271.10" y1="44.20" x2="275.50" y2="44.20" stroke="#111" stroke-width="0.8"/>
<circle cx="288.90" cy="29.80" r="1.20" fill="#d81f35"/>
<circle cx="286.90" cy="37.00" r="1.20" fill="#d81f35"/>
<circle cx="290.90" cy="38.60" r="1.20" fill="#d81f35"/>
<circle cx="287.30" cy="42.80" r="1.20" fill="#d81f35"/>
<circle cx="290.50" cy="45.40" r="1.20" fill="#d81f35"/>
<circle cx="288.90" cy="54.60" r="1.20" fill="#d81f35"/>
<line x1="283.90" y1="41.10" x2="293.90" y2="41.10" stroke="#111" stroke-width="1.1"/>
<line x1="288.90" y1="38.90" x2="288.90" y2="43.30" stroke="#111" stroke-width="0.8"/>
<line x1="286.70" y1="38.90" x2="291.10" y2="38.90" stroke="#111" stroke-width="0.8"/>
<line x1="286.70" y1="43.30" x2="291.10" y2="43.30" stroke="#111" stroke-width="0.8"/>
<circle cx="300.50" cy="69.00" r="1.20" fill="#138a45"/>
<circle cx="302.50" cy="70.50" r="1.20" fill="#138a45"/>
<circle cx="304.50" cy="68.50" r="1.20" fill="#138a45"/>
<circle cx="306.50" cy="72.00" r="1.20" fill="#138a45"/>
<circle cx="308.50" cy="70.00" r="1.20" fill="#138a45"/>
<circle cx="301.50" cy="74.00" r="1.20" fill="#138a45"/>
<circle cx="307.50" cy="75.50" r="1.20" fill="#138a45"/>
<line x1="299.50" y1="71.50" x2="309.50" y2="71.50" stroke="#111" stroke-width="1.1"/>
<line x1="304.50" y1="69.30" x2="304.50" y2="73.70" stroke="#111" stroke-width="0.8"/>
<line x1="302.30" y1="69.30" x2="306.70" y2="69.30" stroke="#111" stroke-width="0.8"/>
<line x1="302.30" y1="73.70" x2="306.70" y2="73.70" stroke="#111" stroke-width="0.8"/>
<polyline points="242.70,62.00 242.70,23.50 258.50,23.50 258.50,36.40" fill="none" stroke="#222" stroke-width="1.0"/>
<text x="251.60" y="21.20" font-size="8.6" text-anchor="middle" font-weight="bold" fill="#111" stroke="#111" stroke-width="0.12">#</text>
<polyline points="289.50,28.50 289.50,24.30 306.20,24.30 306.20,54.60" fill="none" stroke="#222" stroke-width="1.0"/>
<circle cx="298.00" cy="20.40" r="1.05" fill="#111"/>
<line x1="346.50" y1="42.95" x2="346.50" y2="142.80" stroke="#1a1a1a" stroke-width="1.3"/>
<line x1="343.90" y1="142.30" x2="346.50" y2="142.30" stroke="#1a1a1a" stroke-width="1.1"/>
<text x="343.30" y="145.40" font-size="9.6" text-anchor="end" font-weight="bold" fill="#111" stroke="#111" stroke-width="0.12" textLength="10.6" lengthAdjust="spacingAndGlyphs">0.0</text>
<line x1="343.90" y1="109.35" x2="346.50" y2="109.35" stroke="#1a1a1a" stroke-width="1.1"/>
<text x="343.30" y="112.45" font-size="9.6" text-anchor="end" font-weight="bold" fill="#111" stroke="#111" stroke-width="0.12" textLength="10.6" lengthAdjust="spacingAndGlyphs">0.5</text>
<line x1="343.90" y1="76.40" x2="346.50" y2="76.40" stroke="#1a1a1a" stroke-width="1.1"/>
<text x="343.30" y="79.50" font-size="9.6" text-anchor="end" font-weight="bold" fill="#111" stroke="#111" stroke-width="0.12" textLength="10.6" lengthAdjust="spacingAndGlyphs">1.0</text>
<line x1="343.90" y1="43.45" x2="346.50" y2="43.45" stroke="#1a1a1a" stroke-width="1.1"/>
<text x="343.30" y="46.55" font-size="9.6" text-anchor="end" font-weight="bold" fill="#111" stroke="#111" stroke-width="0.12" textLength="10.6" lengthAdjust="spacingAndGlyphs">1.5</text>
<text x="328.40" y="90.90" font-size="7.5" text-anchor="middle" fill="#1a1a1a" stroke="#1a1a1a" stroke-width="0.18" transform="rotate(-90 328.4 90.9)" textLength="76.5" lengthAdjust="spacingAndGlyphs">Relative expression</text>
<rect x="348.50" y="76.40" width="4.30" height="65.90" fill="#8a8a8a"/>
<line x1="350.65" y1="68.49" x2="350.65" y2="77.40" stroke="#111" stroke-width="0.9"/>
<line x1="349.35" y1="68.49" x2="351.95" y2="68.49" stroke="#111" stroke-width="0.9"/>
<rect x="353.55" y="76.40" width="4.30" height="65.90" fill="#d4c48a"/>
<line x1="355.70" y1="71.13" x2="355.70" y2="77.40" stroke="#111" stroke-width="0.9"/>
<line x1="354.40" y1="71.13" x2="357.00" y2="71.13" stroke="#111" stroke-width="0.9"/>
<rect x="358.60" y="109.35" width="4.30" height="32.95" fill="#f47c80"/>
<line x1="360.75" y1="107.37" x2="360.75" y2="110.35" stroke="#111" stroke-width="0.9"/>
<line x1="359.45" y1="107.37" x2="362.05" y2="107.37" stroke="#111" stroke-width="0.9"/>
<rect x="363.65" y="110.01" width="4.30" height="32.29" fill="#f7901e"/>
<line x1="365.80" y1="106.71" x2="365.80" y2="111.01" stroke="#111" stroke-width="0.9"/>
<line x1="364.50" y1="106.71" x2="367.10" y2="106.71" stroke="#111" stroke-width="0.9"/>
<rect x="368.70" y="111.33" width="4.30" height="30.97" fill="#e0202a"/>
<line x1="370.85" y1="106.71" x2="370.85" y2="112.33" stroke="#111" stroke-width="0.9"/>
<line x1="369.55" y1="106.71" x2="372.15" y2="106.71" stroke="#111" stroke-width="0.9"/>
<rect x="373.75" y="81.01" width="4.30" height="61.29" fill="#0f8a45"/>
<line x1="375.90" y1="76.40" x2="375.90" y2="82.01" stroke="#111" stroke-width="0.9"/>
<line x1="374.60" y1="76.40" x2="377.20" y2="76.40" stroke="#111" stroke-width="0.9"/>
<line x1="349.00" y1="147.90" x2="377.50" y2="147.90" stroke="#2a2a2a" stroke-width="1.2"/>
<text x="363.50" y="159.60" font-size="8.4" text-anchor="middle" fill="#222" stroke="#222" stroke-width="0.18">ND2</text>
<polyline points="355.80,60.40 355.80,57.10 361.15,57.10 361.15,100.50" fill="none" stroke="#333" stroke-width="0.95"/>
<polyline points="370.75,95.30 370.75,57.10 376.30,57.10 376.30,73.40" fill="none" stroke="#333" stroke-width="0.95"/>
<circle cx="356.68" cy="52.50" r="1.00" fill="#111"/>
<circle cx="360.28" cy="52.50" r="1.00" fill="#111"/>
<circle cx="371.72" cy="52.50" r="1.00" fill="#111"/>
<circle cx="375.32" cy="52.50" r="1.00" fill="#111"/>
<rect x="383.15" y="76.40" width="4.30" height="65.90" fill="#8a8a8a"/>
<line x1="385.30" y1="66.52" x2="385.30" y2="77.40" stroke="#111" stroke-width="0.9"/>
<line x1="384.00" y1="66.52" x2="386.60" y2="66.52" stroke="#111" stroke-width="0.9"/>
<rect x="388.20" y="77.06" width="4.30" height="65.24" fill="#d4c48a"/>
<line x1="390.35" y1="70.47" x2="390.35" y2="78.06" stroke="#111" stroke-width="0.9"/>
<line x1="389.05" y1="70.47" x2="391.65" y2="70.47" stroke="#111" stroke-width="0.9"/>
<rect x="393.25" y="116.60" width="4.30" height="25.70" fill="#f47c80"/>
<line x1="395.40" y1="113.96" x2="395.40" y2="117.60" stroke="#111" stroke-width="0.9"/>
<line x1="394.10" y1="113.96" x2="396.70" y2="113.96" stroke="#111" stroke-width="0.9"/>
<rect x="398.30" y="119.89" width="4.30" height="22.41" fill="#f7901e"/>
<line x1="400.45" y1="117.26" x2="400.45" y2="120.89" stroke="#111" stroke-width="0.9"/>
<line x1="399.15" y1="117.26" x2="401.75" y2="117.26" stroke="#111" stroke-width="0.9"/>
<rect x="403.35" y="117.92" width="4.30" height="24.38" fill="#e0202a"/>
<line x1="405.50" y1="115.28" x2="405.50" y2="118.92" stroke="#111" stroke-width="0.9"/>
<line x1="404.20" y1="115.28" x2="406.80" y2="115.28" stroke="#111" stroke-width="0.9"/>
<rect x="408.40" y="80.35" width="4.30" height="61.95" fill="#0f8a45"/>
<line x1="410.55" y1="72.45" x2="410.55" y2="81.35" stroke="#111" stroke-width="0.9"/>
<line x1="409.25" y1="72.45" x2="411.85" y2="72.45" stroke="#111" stroke-width="0.9"/>
<line x1="383.65" y1="147.90" x2="412.15" y2="147.90" stroke="#2a2a2a" stroke-width="1.2"/>
<text x="398.15" y="159.60" font-size="8.4" text-anchor="middle" fill="#222" stroke="#222" stroke-width="0.18">ND4</text>
<polyline points="390.45,60.40 390.45,57.10 395.80,57.10 395.80,100.50" fill="none" stroke="#333" stroke-width="0.95"/>
<polyline points="405.40,95.30 405.40,57.10 410.95,57.10 410.95,69.45" fill="none" stroke="#333" stroke-width="0.95"/>
<circle cx="391.32" cy="52.50" r="1.00" fill="#111"/>
<circle cx="394.93" cy="52.50" r="1.00" fill="#111"/>
<circle cx="406.37" cy="52.50" r="1.00" fill="#111"/>
<circle cx="409.97" cy="52.50" r="1.00" fill="#111"/>
<rect x="417.80" y="76.40" width="4.30" height="65.90" fill="#8a8a8a"/>
<line x1="419.95" y1="66.52" x2="419.95" y2="77.40" stroke="#111" stroke-width="0.9"/>
<line x1="418.65" y1="66.52" x2="421.25" y2="66.52" stroke="#111" stroke-width="0.9"/>
<rect x="422.85" y="78.38" width="4.30" height="63.92" fill="#d4c48a"/>
<line x1="425.00" y1="71.79" x2="425.00" y2="79.38" stroke="#111" stroke-width="0.9"/>
<line x1="423.70" y1="71.79" x2="426.30" y2="71.79" stroke="#111" stroke-width="0.9"/>
<rect x="427.90" y="102.10" width="4.30" height="40.20" fill="#f47c80"/>
<line x1="430.05" y1="98.81" x2="430.05" y2="103.10" stroke="#111" stroke-width="0.9"/>
<line x1="428.75" y1="98.81" x2="431.35" y2="98.81" stroke="#111" stroke-width="0.9"/>
<rect x="432.95" y="108.03" width="4.30" height="34.27" fill="#f7901e"/>
<line x1="435.10" y1="104.74" x2="435.10" y2="109.03" stroke="#111" stroke-width="0.9"/>
<line x1="433.80" y1="104.74" x2="436.40" y2="104.74" stroke="#111" stroke-width="0.9"/>
<rect x="438.00" y="110.67" width="4.30" height="31.63" fill="#e0202a"/>
<line x1="440.15" y1="106.71" x2="440.15" y2="111.67" stroke="#111" stroke-width="0.9"/>
<line x1="438.85" y1="106.71" x2="441.45" y2="106.71" stroke="#111" stroke-width="0.9"/>
<rect x="443.05" y="78.38" width="4.30" height="63.92" fill="#0f8a45"/>
<line x1="445.20" y1="75.08" x2="445.20" y2="79.38" stroke="#111" stroke-width="0.9"/>
<line x1="443.90" y1="75.08" x2="446.50" y2="75.08" stroke="#111" stroke-width="0.9"/>
<line x1="418.30" y1="147.90" x2="446.80" y2="147.90" stroke="#2a2a2a" stroke-width="1.2"/>
<text x="432.80" y="159.60" font-size="8.4" text-anchor="middle" fill="#222" stroke="#222" stroke-width="0.18">ND5</text>
<polyline points="425.10,60.40 425.10,57.10 430.45,57.10 430.45,96.81" fill="none" stroke="#333" stroke-width="0.95"/>
<polyline points="440.05,95.30 440.05,57.10 445.60,57.10 445.60,72.08" fill="none" stroke="#333" stroke-width="0.95"/>
<circle cx="427.77" cy="52.50" r="1.00" fill="#111"/>
<circle cx="441.02" cy="52.50" r="1.00" fill="#111"/>
<circle cx="444.62" cy="52.50" r="1.00" fill="#111"/>
<rect x="452.45" y="76.40" width="4.30" height="65.90" fill="#8a8a8a"/>
<line x1="454.60" y1="69.81" x2="454.60" y2="77.40" stroke="#111" stroke-width="0.9"/>
<line x1="453.30" y1="69.81" x2="455.90" y2="69.81" stroke="#111" stroke-width="0.9"/>
<rect x="457.50" y="73.11" width="4.30" height="69.20" fill="#d4c48a"/>
<line x1="459.65" y1="65.20" x2="459.65" y2="74.11" stroke="#111" stroke-width="0.9"/>
<line x1="458.35" y1="65.20" x2="460.95" y2="65.20" stroke="#111" stroke-width="0.9"/>
<rect x="462.55" y="121.87" width="4.30" height="20.43" fill="#f47c80"/>
<line x1="464.70" y1="119.24" x2="464.70" y2="122.87" stroke="#111" stroke-width="0.9"/>
<line x1="463.40" y1="119.24" x2="466.00" y2="119.24" stroke="#111" stroke-width="0.9"/>
<rect x="467.60" y="125.83" width="4.30" height="16.47" fill="#f7901e"/>
<line x1="469.75" y1="123.85" x2="469.75" y2="126.83" stroke="#111" stroke-width="0.9"/>
<line x1="468.45" y1="123.85" x2="471.05" y2="123.85" stroke="#111" stroke-width="0.9"/>
<rect x="472.65" y="123.85" width="4.30" height="18.45" fill="#e0202a"/>
<line x1="474.80" y1="121.87" x2="474.80" y2="124.85" stroke="#111" stroke-width="0.9"/>
<line x1="473.50" y1="121.87" x2="476.10" y2="121.87" stroke="#111" stroke-width="0.9"/>
<rect x="477.70" y="82.99" width="4.30" height="59.31" fill="#0f8a45"/>
<line x1="479.85" y1="75.74" x2="479.85" y2="83.99" stroke="#111" stroke-width="0.9"/>
<line x1="478.55" y1="75.74" x2="481.15" y2="75.74" stroke="#111" stroke-width="0.9"/>
<line x1="452.95" y1="147.90" x2="481.45" y2="147.90" stroke="#2a2a2a" stroke-width="1.2"/>
<text x="467.45" y="159.60" font-size="8.4" text-anchor="middle" fill="#222" stroke="#222" stroke-width="0.18">CYTB</text>
<polyline points="459.75,60.40 459.75,57.10 465.10,57.10 465.10,100.50" fill="none" stroke="#333" stroke-width="0.95"/>
<polyline points="474.70,95.30 474.70,57.10 480.25,57.10 480.25,72.74" fill="none" stroke="#333" stroke-width="0.95"/>
<circle cx="460.62" cy="52.50" r="1.00" fill="#111"/>
<circle cx="464.22" cy="52.50" r="1.00" fill="#111"/>
<circle cx="475.67" cy="52.50" r="1.00" fill="#111"/>
<circle cx="479.27" cy="52.50" r="1.00" fill="#111"/>
<rect x="487.10" y="76.40" width="4.30" height="65.90" fill="#8a8a8a"/>
<line x1="489.25" y1="68.49" x2="489.25" y2="77.40" stroke="#111" stroke-width="0.9"/>
<line x1="487.95" y1="68.49" x2="490.55" y2="68.49" stroke="#111" stroke-width="0.9"/>
<rect x="492.15" y="78.38" width="4.30" height="63.92" fill="#d4c48a"/>
<line x1="494.30" y1="72.45" x2="494.30" y2="79.38" stroke="#111" stroke-width="0.9"/>
<line x1="493.00" y1="72.45" x2="495.60" y2="72.45" stroke="#111" stroke-width="0.9"/>
<rect x="497.20" y="109.35" width="4.30" height="32.95" fill="#f47c80"/>
<line x1="499.35" y1="105.40" x2="499.35" y2="110.35" stroke="#111" stroke-width="0.9"/>
<line x1="498.05" y1="105.40" x2="500.65" y2="105.40" stroke="#111" stroke-width="0.9"/>
<rect x="502.25" y="117.26" width="4.30" height="25.04" fill="#f7901e"/>
<line x1="504.40" y1="115.28" x2="504.40" y2="118.26" stroke="#111" stroke-width="0.9"/>
<line x1="503.10" y1="115.28" x2="505.70" y2="115.28" stroke="#111" stroke-width="0.9"/>
<rect x="507.30" y="118.58" width="4.30" height="23.72" fill="#e0202a"/>
<line x1="509.45" y1="116.60" x2="509.45" y2="119.58" stroke="#111" stroke-width="0.9"/>
<line x1="508.15" y1="116.60" x2="510.75" y2="116.60" stroke="#111" stroke-width="0.9"/>
<rect x="512.35" y="81.67" width="4.30" height="60.63" fill="#0f8a45"/>
<line x1="514.50" y1="71.13" x2="514.50" y2="82.67" stroke="#111" stroke-width="0.9"/>
<line x1="513.20" y1="71.13" x2="515.80" y2="71.13" stroke="#111" stroke-width="0.9"/>
<line x1="487.60" y1="147.90" x2="516.10" y2="147.90" stroke="#2a2a2a" stroke-width="1.2"/>
<text x="502.10" y="159.60" font-size="8.4" text-anchor="middle" fill="#222" stroke="#222" stroke-width="0.18">COX1</text>
<polyline points="494.40,60.40 494.40,57.10 499.75,57.10 499.75,100.50" fill="none" stroke="#333" stroke-width="0.95"/>
<polyline points="509.35,95.30 509.35,57.10 514.90,57.10 514.90,68.13" fill="none" stroke="#333" stroke-width="0.95"/>
<circle cx="495.28" cy="52.50" r="1.00" fill="#111"/>
<circle cx="498.88" cy="52.50" r="1.00" fill="#111"/>
<circle cx="510.32" cy="52.50" r="1.00" fill="#111"/>
<circle cx="513.92" cy="52.50" r="1.00" fill="#111"/>
<line x1="345.90" y1="142.30" x2="519.50" y2="142.30" stroke="#1a1a1a" stroke-width="1.5"/>
<rect x="341.00" y="11.20" width="9.60" height="4.80" fill="#8a8a8a"/>
<text x="354.00" y="17.20" font-size="7.4" text-anchor="start" fill="#2a2a2a" stroke="#2a2a2a" stroke-width="0.16" textLength="66.62" lengthAdjust="spacingAndGlyphs">CAL-27+NCm+saline</text>
<rect x="341.00" y="20.00" width="9.60" height="4.80" fill="#d4c48a"/>
<text x="354.00" y="26.10" font-size="7.4" text-anchor="start" fill="#2a2a2a" stroke="#2a2a2a" stroke-width="0.16" textLength="53.29" lengthAdjust="spacingAndGlyphs">CAL-27+NCm+ci</text>
<rect x="341.00" y="28.80" width="9.60" height="4.80" fill="#f47c80"/>
<text x="354.00" y="35.00" font-size="7.4" text-anchor="start" fill="#2a2a2a" stroke="#2a2a2a" stroke-width="0.16" textLength="67.79" lengthAdjust="spacingAndGlyphs">CAL-27+miR-2392+ci</text>
<rect x="428.90" y="12.10" width="9.60" height="4.80" fill="#f7901e"/>
<text x="441.90" y="17.20" font-size="7.4" text-anchor="start" fill="#2a2a2a" stroke="#2a2a2a" stroke-width="0.16" textLength="72.88" lengthAdjust="spacingAndGlyphs">CAL-27-re+NCs+saline</text>
<rect x="428.90" y="21.10" width="9.60" height="4.80" fill="#e0202a"/>
<text x="441.90" y="26.10" font-size="7.4" text-anchor="start" fill="#2a2a2a" stroke="#2a2a2a" stroke-width="0.16" textLength="59.56" lengthAdjust="spacingAndGlyphs">CAL-27-re+NCs+ci</text>
<rect x="428.90" y="30.20" width="9.60" height="4.80" fill="#0f8a45"/>
<text x="441.90" y="35.00" font-size="7.4" text-anchor="start" fill="#2a2a2a" stroke="#2a2a2a" stroke-width="0.16" textLength="70.16" lengthAdjust="spacingAndGlyphs">CAL-27-re+Sponge+ci</text>
<rect x="14.00" y="231.50" width="37.20" height="43.20" fill="#050505"/>
<rect x="52.50" y="231.50" width="37.20" height="43.20" fill="#050505"/>
<rect x="91.00" y="231.50" width="37.20" height="43.20" fill="#050505"/>
<rect x="129.50" y="231.50" width="37.20" height="43.20" fill="#050505"/>
<rect x="168.00" y="231.50" width="37.20" height="43.20" fill="#050505"/>
<rect x="206.50" y="231.50" width="37.20" height="43.20" fill="#050505"/>
<rect x="14.00" y="276.00" width="37.20" height="43.20" filter="url(#f10)"/>
<rect x="52.50" y="276.00" width="37.20" height="43.20" filter="url(#f11)"/>
<rect x="91.00" y="276.00" width="37.20" height="43.20" filter="url(#f12)"/>
<rect x="129.50" y="276.00" width="37.20" height="43.20" filter="url(#f13)"/>
<rect x="168.00" y="276.00" width="37.20" height="43.20" filter="url(#f14)"/>
<rect x="206.50" y="276.00" width="37.20" height="43.20" filter="url(#f15)"/>
<rect x="14.00" y="320.50" width="37.20" height="43.20" filter="url(#f20)"/>
<rect x="52.50" y="320.50" width="37.20" height="43.20" filter="url(#f21)"/>
<rect x="91.00" y="320.50" width="37.20" height="43.20" filter="url(#f22)"/>
<rect x="129.50" y="320.50" width="37.20" height="43.20" filter="url(#f23)"/>
<rect x="168.00" y="320.50" width="37.20" height="43.20" filter="url(#f24)"/>
<rect x="206.50" y="320.50" width="37.20" height="43.20" filter="url(#f25)"/>
<g clip-path="url(#cc4)"><ellipse cx="188.46" cy="299.76" rx="5" ry="19" transform="rotate(-25 188.46 299.76)" fill="#2a3a9a" opacity="0.3" filter="url(#strk)"/></g>
<g clip-path="url(#cc4)"><ellipse cx="188.46" cy="344.26" rx="5" ry="19" transform="rotate(-25 188.46 344.26)" fill="#2a3a9a" opacity="0.3" filter="url(#strk)"/></g>
<rect x="51.20" y="231.50" width="1.30" height="132.20" fill="#c8c8da"/>
<rect x="89.70" y="231.50" width="1.30" height="132.20" fill="#c8c8da"/>
<rect x="128.20" y="231.50" width="1.30" height="132.20" fill="#c8c8da"/>
<rect x="166.70" y="231.50" width="1.30" height="132.20" fill="#c8c8da"/>
<rect x="205.20" y="231.50" width="1.30" height="132.20" fill="#c8c8da"/>
<rect x="14.00" y="274.70" width="229.70" height="1.30" fill="#c8c8da"/>
<rect x="14.00" y="319.20" width="229.70" height="1.30" fill="#c8c8da"/>
<circle cx="65.60" cy="240.11" r="0.37" fill="rgb(71,71,71)"/>
<circle cx="81.12" cy="238.00" r="0.37" fill="rgb(67,67,67)"/>
<circle cx="71.33" cy="235.89" r="0.50" fill="rgb(57,57,57)"/>
<circle cx="63.01" cy="255.00" r="0.64" fill="rgb(33,33,33)"/>
<circle cx="59.36" cy="242.80" r="0.55" fill="rgb(70,70,70)"/>
<circle cx="57.43" cy="256.28" r="0.69" fill="rgb(33,33,33)"/>
<circle cx="56.95" cy="266.44" r="0.50" fill="rgb(48,48,48)"/>
<circle cx="72.37" cy="255.74" r="0.64" fill="rgb(65,65,65)"/>
<circle cx="61.14" cy="256.14" r="0.42" fill="rgb(70,70,70)"/>
<circle cx="58.54" cy="260.99" r="0.37" fill="rgb(66,66,66)"/>
<circle cx="61.93" cy="259.81" r="0.62" fill="rgb(57,57,57)"/>
<circle cx="70.03" cy="268.85" r="0.45" fill="rgb(53,53,53)"/>
<circle cx="80.28" cy="260.50" r="0.38" fill="rgb(45,45,45)"/>
<circle cx="64.87" cy="252.92" r="0.61" fill="rgb(51,51,51)"/>
<circle cx="102.98" cy="270.96" r="0.53" fill="rgb(37,37,37)"/>
<circle cx="99.15" cy="247.22" r="0.50" fill="rgb(61,61,61)"/>
<circle cx="124.01" cy="237.39" r="0.55" fill="rgb(65,65,65)"/>
<circle cx="121.31" cy="246.17" r="0.47" fill="rgb(74,74,74)"/>
<circle cx="109.50" cy="264.14" r="0.64" fill="rgb(34,34,34)"/>
<circle cx="123.47" cy="252.14" r="0.37" fill="rgb(72,72,72)"/>
<circle cx="116.81" cy="246.02" r="0.70" fill="rgb(66,66,66)"/>
<circle cx="119.64" cy="245.09" r="0.66" fill="rgb(54,54,54)"/>
<circle cx="104.83" cy="269.49" r="0.41" fill="rgb(52,52,52)"/>
<circle cx="97.65" cy="236.69" r="0.40" fill="rgb(48,48,48)"/>
<circle cx="101.73" cy="249.04" r="0.38" fill="rgb(61,61,61)"/>
<circle cx="108.01" cy="254.94" r="0.64" fill="rgb(38,38,38)"/>
<circle cx="120.96" cy="244.86" r="0.70" fill="rgb(56,56,56)"/>
<circle cx="115.30" cy="248.65" r="0.40" fill="rgb(44,44,44)"/>
<circle cx="215.00" cy="243.13" r="0.35" fill="rgb(44,44,44)"/>
<circle cx="235.43" cy="241.28" r="0.35" fill="rgb(48,48,48)"/>
<circle cx="222.57" cy="248.24" r="0.46" fill="rgb(66,66,66)"/>
<circle cx="213.42" cy="266.46" r="0.58" fill="rgb(69,69,69)"/>
<circle cx="232.58" cy="251.49" r="0.63" fill="rgb(73,73,73)"/>
<circle cx="221.74" cy="249.34" r="0.52" fill="rgb(36,36,36)"/>
<circle cx="221.99" cy="241.59" r="0.50" fill="rgb(43,43,43)"/>
<circle cx="212.93" cy="256.85" r="0.35" fill="rgb(36,36,36)"/>
<circle cx="214.22" cy="238.27" r="0.56" fill="rgb(53,53,53)"/>
<circle cx="211.69" cy="242.24" r="0.40" fill="rgb(54,54,54)"/>
<circle cx="217.37" cy="247.42" r="0.52" fill="rgb(53,53,53)"/>
<circle cx="213.10" cy="252.66" r="0.52" fill="rgb(59,59,59)"/>
<circle cx="219.23" cy="239.86" r="0.61" fill="rgb(51,51,51)"/>
<circle cx="224.43" cy="260.24" r="0.36" fill="rgb(63,63,63)"/>
<circle cx="239.17" cy="254.15" r="0.59" fill="rgb(39,39,39)"/>
<circle cx="238.02" cy="262.70" r="0.69" fill="rgb(49,49,49)"/>
<circle cx="236.44" cy="260.40" r="0.53" fill="rgb(46,46,46)"/>
<circle cx="237.84" cy="247.73" r="0.54" fill="rgb(44,44,44)"/>
<circle cx="41.31" cy="246.76" r="0.56" fill="rgb(44,44,44)"/>
<circle cx="41.60" cy="262.71" r="0.63" fill="rgb(42,42,42)"/>
<circle cx="42.53" cy="262.02" r="0.42" fill="rgb(44,44,44)"/>
<circle cx="147.87" cy="261.69" r="0.63" fill="rgb(31,31,31)"/>
<circle cx="147.23" cy="241.70" r="0.68" fill="rgb(68,68,68)"/>
<circle cx="146.45" cy="269.36" r="0.68" fill="rgb(52,52,52)"/>
<circle cx="143.88" cy="242.70" r="0.51" fill="rgb(44,44,44)"/>
<circle cx="181.54" cy="252.45" r="0.64" fill="rgb(69,69,69)"/>
<circle cx="185.96" cy="258.79" r="0.38" fill="rgb(71,71,71)"/>
<circle cx="191.61" cy="268.34" r="0.61" fill="rgb(75,75,75)"/>
<circle cx="185.91" cy="241.14" r="0.47" fill="rgb(70,70,70)"/>
<rect x="236.00" y="356.80" width="4.20" height="1.40" fill="#e8e8f0"/>
<text x="10.20" y="252.40" font-size="8.4" text-anchor="middle" fill="#222" stroke="#222" stroke-width="0.18" transform="rotate(-90 10.2 252.4)">TUNEL</text>
<text x="10.20" y="299.80" font-size="8.4" text-anchor="middle" fill="#222" stroke="#222" stroke-width="0.18" transform="rotate(-90 10.2 299.8)">DAPI</text>
<text x="10.20" y="343.60" font-size="8.4" text-anchor="middle" fill="#222" stroke="#222" stroke-width="0.18" transform="rotate(-90 10.2 343.6)">Overlay</text>
<text x="33.20" y="215.20" font-size="6.9" text-anchor="start" fill="#222" stroke="#222" stroke-width="0.081" transform="rotate(-45 33.2 215.2)">NCm+saline</text>
<text x="71.70" y="215.20" font-size="6.9" text-anchor="start" fill="#222" stroke="#222" stroke-width="0.081" transform="rotate(-45 71.69999999999999 215.2)">NCm+ci</text>
<text x="110.20" y="215.20" font-size="6.9" text-anchor="start" fill="#222" stroke="#222" stroke-width="0.081" transform="rotate(-45 110.19999999999999 215.2)">miR-2392+ci</text>
<text x="148.70" y="215.20" font-size="6.9" text-anchor="start" fill="#222" stroke="#222" stroke-width="0.081" transform="rotate(-45 148.7 215.2)">NCs+saline</text>
<text x="187.20" y="215.20" font-size="6.9" text-anchor="start" fill="#222" stroke="#222" stroke-width="0.081" transform="rotate(-45 187.2 215.2)">NCs+ci</text>
<text x="225.70" y="215.20" font-size="6.9" text-anchor="start" fill="#222" stroke="#222" stroke-width="0.081" transform="rotate(-45 225.7 215.2)">Sponge+ci</text>
<line x1="17.00" y1="219.30" x2="123.60" y2="219.30" stroke="#222" stroke-width="1.0"/>
<line x1="132.00" y1="219.30" x2="240.00" y2="219.30" stroke="#222" stroke-width="1.0"/>
<text x="68.20" y="227.70" font-size="7" text-anchor="middle" fill="#222" stroke="#222" stroke-width="0.081">CAL-27</text>
<text x="185.50" y="227.90" font-size="7" text-anchor="middle" fill="#222" stroke="#222" stroke-width="0.081">CAL-27-re</text>
<line x1="275.80" y1="234.60" x2="275.80" y2="313.60" stroke="#1a1a1a" stroke-width="1.3"/>
<line x1="273.20" y1="313.10" x2="275.80" y2="313.10" stroke="#1a1a1a" stroke-width="1.1"/>
<text x="271.60" y="315.70" font-size="7.2" text-anchor="end" font-weight="bold" fill="#111" stroke="#111" stroke-width="0.12">0</text>
<line x1="273.20" y1="293.60" x2="275.80" y2="293.60" stroke="#1a1a1a" stroke-width="1.1"/>
<text x="271.60" y="296.20" font-size="7.2" text-anchor="end" font-weight="bold" fill="#111" stroke="#111" stroke-width="0.12" textLength="10.4" lengthAdjust="spacingAndGlyphs">10</text>
<line x1="273.20" y1="274.10" x2="275.80" y2="274.10" stroke="#1a1a1a" stroke-width="1.1"/>
<text x="271.60" y="276.70" font-size="7.2" text-anchor="end" font-weight="bold" fill="#111" stroke="#111" stroke-width="0.12" textLength="10.4" lengthAdjust="spacingAndGlyphs">20</text>
<line x1="273.20" y1="254.60" x2="275.80" y2="254.60" stroke="#1a1a1a" stroke-width="1.1"/>
<text x="271.60" y="257.20" font-size="7.2" text-anchor="end" font-weight="bold" fill="#111" stroke="#111" stroke-width="0.12" textLength="10.4" lengthAdjust="spacingAndGlyphs">30</text>
<line x1="273.20" y1="235.10" x2="275.80" y2="235.10" stroke="#1a1a1a" stroke-width="1.1"/>
<text x="271.60" y="237.70" font-size="7.2" text-anchor="end" font-weight="bold" fill="#111" stroke="#111" stroke-width="0.12" textLength="10.4" lengthAdjust="spacingAndGlyphs">40</text>
<text x="255.20" y="276.50" font-size="8.9" text-anchor="middle" fill="#222" stroke="#222" stroke-width="0.18" transform="rotate(-90 255.2 276.5)">Apoptotic cells (%)</text>
<line x1="275.20" y1="313.10" x2="347.40" y2="313.10" stroke="#1a1a1a" stroke-width="1.3"/>
<line x1="284.80" y1="300.43" x2="284.80" y2="304.33" stroke="#111" stroke-width="1.0"/>
<line x1="282.60" y1="300.43" x2="287.00" y2="300.43" stroke="#111" stroke-width="1.0"/>
<rect x="280.80" y="304.33" width="8.00" height="8.77" fill="#8a8a8a" stroke="#111" stroke-width="0.9"/>
<line x1="296.25" y1="251.29" x2="296.25" y2="262.40" stroke="#111" stroke-width="1.0"/>
<line x1="294.05" y1="251.29" x2="298.45" y2="251.29" stroke="#111" stroke-width="1.0"/>
<rect x="292.25" y="262.40" width="8.00" height="50.70" fill="#d4c48a" stroke="#111" stroke-width="0.9"/>
<line x1="307.70" y1="277.03" x2="307.70" y2="285.22" stroke="#111" stroke-width="1.0"/>
<line x1="305.50" y1="277.03" x2="309.90" y2="277.03" stroke="#111" stroke-width="1.0"/>
<rect x="303.70" y="285.22" width="8.00" height="27.88" fill="#f47c80" stroke="#111" stroke-width="0.9"/>
<line x1="319.15" y1="298.48" x2="319.15" y2="303.74" stroke="#111" stroke-width="1.0"/>
<line x1="316.95" y1="298.48" x2="321.35" y2="298.48" stroke="#111" stroke-width="1.0"/>
<rect x="315.15" y="303.74" width="8.00" height="9.36" fill="#f7901e" stroke="#111" stroke-width="0.9"/>
<line x1="330.60" y1="298.09" x2="330.60" y2="303.35" stroke="#111" stroke-width="1.0"/>
<line x1="328.40" y1="298.09" x2="332.80" y2="298.09" stroke="#111" stroke-width="1.0"/>
<rect x="326.60" y="303.35" width="8.00" height="9.75" fill="#e0202a" stroke="#111" stroke-width="0.9"/>
<line x1="342.05" y1="256.55" x2="342.05" y2="266.30" stroke="#111" stroke-width="1.0"/>
<line x1="339.85" y1="256.55" x2="344.25" y2="256.55" stroke="#111" stroke-width="1.0"/>
<rect x="338.05" y="266.30" width="8.00" height="46.80" fill="#0f8a45" stroke="#111" stroke-width="0.9"/>
<polyline points="295.30,250.00 295.30,245.40 306.90,245.40 306.90,273.00" fill="none" stroke="#222" stroke-width="0.95"/>
<circle cx="300.60" cy="239.80" r="1.05" fill="#111"/>
<polyline points="329.70,287.20 329.70,243.60 341.30,243.60 341.30,246.40" fill="none" stroke="#222" stroke-width="0.95"/>
<circle cx="332.90" cy="239.80" r="1.05" fill="#111"/>
<circle cx="337.10" cy="239.80" r="1.05" fill="#111"/>
<text x="296.60" y="321.70" font-size="7" text-anchor="middle" fill="#222" stroke="#222" stroke-width="0.081">CAL-27</text>
<text x="330.50" y="321.70" font-size="7" text-anchor="middle" fill="#222" stroke="#222" stroke-width="0.081">CAL-27-re</text>
<line x1="280.00" y1="323.30" x2="310.70" y2="323.30" stroke="#333" stroke-width="1.0"/>
<line x1="316.00" y1="323.30" x2="347.00" y2="323.30" stroke="#333" stroke-width="1.0"/>
<text x="285.60" y="328.60" font-size="7.0" text-anchor="end" fill="#222" stroke="#222" stroke-width="0.081" transform="rotate(-45 285.6 328.6)">NCm+saline</text>
<text x="297.05" y="328.60" font-size="7.0" text-anchor="end" fill="#222" stroke="#222" stroke-width="0.081" transform="rotate(-45 297.05 328.6)">NCm+ci</text>
<text x="308.50" y="328.60" font-size="7.0" text-anchor="end" fill="#222" stroke="#222" stroke-width="0.081" transform="rotate(-45 308.5 328.6)">miR-2392+ci</text>
<text x="319.95" y="328.60" font-size="7.0" text-anchor="end" fill="#222" stroke="#222" stroke-width="0.081" transform="rotate(-45 319.95 328.6)">NCs+saline</text>
<text x="331.40" y="328.60" font-size="7.0" text-anchor="end" fill="#222" stroke="#222" stroke-width="0.081" transform="rotate(-45 331.40000000000003 328.6)">NCs+ci</text>
<text x="342.85" y="328.60" font-size="7.0" text-anchor="end" fill="#222" stroke="#222" stroke-width="0.081" transform="rotate(-45 342.85 328.6)">Sponge+ci</text>
<text x="395.80" y="212.40" font-size="7.3" text-anchor="start" fill="#222" stroke="#222" stroke-width="0.081" transform="rotate(-45 395.8 212.4)">NCm+saline</text>
<text x="416.00" y="212.40" font-size="7.3" text-anchor="start" fill="#222" stroke="#222" stroke-width="0.081" transform="rotate(-45 416.0 212.4)">NCm+ci</text>
<text x="434.70" y="212.40" font-size="7.3" text-anchor="start" fill="#222" stroke="#222" stroke-width="0.081" transform="rotate(-45 434.7 212.4)">miR-2392+ci</text>
<text x="456.40" y="212.40" font-size="7.3" text-anchor="start" fill="#222" stroke="#222" stroke-width="0.081" transform="rotate(-45 456.4 212.4)">NCs+saline</text>
<text x="472.70" y="212.40" font-size="7.3" text-anchor="start" fill="#222" stroke="#222" stroke-width="0.081" transform="rotate(-45 472.7 212.4)">NCs+ci</text>
<text x="489.50" y="212.40" font-size="7.3" text-anchor="start" fill="#222" stroke="#222" stroke-width="0.081" transform="rotate(-45 489.5 212.4)">Sponge+ci</text>
<line x1="386.40" y1="213.80" x2="441.00" y2="213.80" stroke="#333" stroke-width="1.3"/>
<line x1="445.50" y1="213.80" x2="500.00" y2="213.80" stroke="#333" stroke-width="1.3"/>
<text x="413.20" y="221.90" font-size="7.4" text-anchor="middle" fill="#222" stroke="#222" stroke-width="0.081" textLength="23.4" lengthAdjust="spacingAndGlyphs">CAL-27</text>
<text x="470.60" y="221.30" font-size="7.4" text-anchor="middle" fill="#222" stroke="#222" stroke-width="0.081" textLength="32.5" lengthAdjust="spacingAndGlyphs">CAL-27-re</text>
<rect x="386.40" y="224.90" width="55.10" height="15.10" fill="#c8c8c8" stroke="#1e1e1e" stroke-width="1.2"/>
<rect x="388.65" y="232.88" width="16.70" height="2.40" rx="4.68" ry="1.20" fill="rgb(23,23,23)" filter="url(#bl)"/>
<rect x="405.85" y="232.88" width="16.70" height="2.40" rx="4.68" ry="1.20" fill="rgb(23,23,23)" filter="url(#bl)"/>
<rect x="424.30" y="233.18" width="13.40" height="1.80" rx="3.75" ry="0.90" fill="rgb(125,125,125)" filter="url(#bl)"/>
<rect x="445.50" y="224.90" width="55.20" height="15.10" fill="#c4c4c4" stroke="#1e1e1e" stroke-width="1.2"/>
<rect x="447.70" y="232.98" width="15.80" height="2.20" rx="4.42" ry="1.10" fill="rgb(50,50,50)" filter="url(#bl)"/>
<rect x="464.90" y="233.08" width="15.20" height="2.00" rx="4.26" ry="1.00" fill="rgb(68,68,68)" filter="url(#bl)"/>
<rect x="481.25" y="232.68" width="16.70" height="2.80" rx="4.68" ry="1.40" fill="rgb(23,23,23)" filter="url(#bl)"/>
<text x="382.80" y="237.60" font-size="8.4" text-anchor="end" fill="#1a1a1a" stroke="#1a1a1a" stroke-width="0.18">ND2</text>
<rect x="386.40" y="242.90" width="55.10" height="15.10" fill="#dadada" stroke="#1e1e1e" stroke-width="1.2"/>
<rect x="388.50" y="250.05" width="17.00" height="3.40" rx="4.76" ry="1.70" fill="rgb(14,14,14)" filter="url(#bl)"/>
<rect x="405.70" y="249.95" width="17.00" height="3.60" rx="4.76" ry="1.80" fill="rgb(14,14,14)" filter="url(#bl)"/>
<rect x="424.84" y="250.85" width="12.32" height="1.80" rx="3.45" ry="0.90" fill="rgb(173,173,173)" filter="url(#bl)"/>
<rect x="445.50" y="242.90" width="55.20" height="15.10" fill="#acacac" stroke="#1e1e1e" stroke-width="1.2"/>
<rect x="447.85" y="250.55" width="15.50" height="2.40" rx="4.34" ry="1.20" fill="rgb(53,53,53)" filter="url(#bl)"/>
<rect x="464.75" y="250.55" width="15.50" height="2.40" rx="4.34" ry="1.20" fill="rgb(53,53,53)" filter="url(#bl)"/>
<rect x="481.10" y="249.85" width="17.00" height="3.80" rx="4.76" ry="1.90" fill="rgb(14,14,14)" filter="url(#bl)"/>
<text x="382.80" y="255.25" font-size="8.4" text-anchor="end" fill="#1a1a1a" stroke="#1a1a1a" stroke-width="0.18">ND4</text>
<rect x="386.40" y="260.90" width="55.10" height="15.10" fill="#cfcfcf" stroke="#1e1e1e" stroke-width="1.2"/>
<rect x="388.50" y="267.89" width="17.00" height="3.40" rx="4.76" ry="1.70" fill="rgb(14,14,14)" filter="url(#bl)"/>
<rect x="405.79" y="267.99" width="16.82" height="3.20" rx="4.71" ry="1.60" fill="rgb(19,19,19)" filter="url(#bl)"/>
<rect x="424.84" y="268.69" width="12.32" height="1.80" rx="3.45" ry="0.90" fill="rgb(164,164,164)" filter="url(#bl)"/>
<rect x="445.50" y="260.90" width="55.20" height="15.10" fill="#b6b6b6" stroke="#1e1e1e" stroke-width="1.2"/>
<rect x="447.40" y="268.29" width="16.40" height="2.60" rx="4.59" ry="1.30" fill="rgb(30,30,30)" filter="url(#bl)"/>
<rect x="464.30" y="268.29" width="16.40" height="2.60" rx="4.59" ry="1.30" fill="rgb(30,30,30)" filter="url(#bl)"/>
<rect x="481.10" y="267.79" width="17.00" height="3.60" rx="4.76" ry="1.80" fill="rgb(14,14,14)" filter="url(#bl)"/>
<text x="382.80" y="272.90" font-size="8.4" text-anchor="end" fill="#1a1a1a" stroke="#1a1a1a" stroke-width="0.18">ND5</text>
<rect x="386.40" y="278.90" width="55.10" height="15.10" fill="#d6d6d6" stroke="#1e1e1e" stroke-width="1.2"/>
<rect x="388.86" y="285.54" width="16.28" height="2.80" rx="4.56" ry="1.40" fill="rgb(38,38,38)" filter="url(#bl)"/>
<rect x="405.79" y="285.24" width="16.82" height="3.40" rx="4.71" ry="1.70" fill="rgb(20,20,20)" filter="url(#bl)"/>
<rect x="425.05" y="286.04" width="11.90" height="1.80" rx="3.33" ry="0.90" fill="rgb(184,184,184)" filter="url(#bl)"/>
<rect x="445.50" y="278.90" width="55.20" height="15.10" fill="#c6c6c6" stroke="#1e1e1e" stroke-width="1.2"/>
<rect x="449.44" y="285.84" width="12.32" height="2.20" rx="3.45" ry="1.10" fill="rgb(157,157,157)" filter="url(#bl)"/>
<rect x="465.95" y="285.84" width="13.10" height="2.20" rx="3.67" ry="1.10" fill="rgb(133,133,133)" filter="url(#bl)"/>
<rect x="481.10" y="285.34" width="17.00" height="3.20" rx="4.76" ry="1.60" fill="rgb(14,14,14)" filter="url(#bl)"/>
<text x="382.80" y="290.55" font-size="8.4" text-anchor="end" fill="#1a1a1a" stroke="#1a1a1a" stroke-width="0.18">CYTB</text>
<rect x="386.40" y="296.90" width="55.10" height="15.10" fill="#cacaca" stroke="#1e1e1e" stroke-width="1.2"/>
<rect x="388.65" y="301.35" width="16.70" height="3.60" rx="4.68" ry="1.80" fill="rgb(23,23,23)" filter="url(#bl)"/>
<rect x="405.85" y="301.35" width="16.70" height="3.60" rx="4.68" ry="1.80" fill="rgb(23,23,23)" filter="url(#bl)"/>
<rect x="424.30" y="301.95" width="13.40" height="2.40" rx="3.75" ry="1.20" fill="rgb(126,126,126)" filter="url(#bl)"/>
<rect x="445.50" y="296.90" width="55.20" height="15.10" fill="#cacaca" stroke="#1e1e1e" stroke-width="1.2"/>
<rect x="449.20" y="302.05" width="12.80" height="2.20" rx="3.58" ry="1.10" fill="rgb(145,145,145)" filter="url(#bl)"/>
<rect x="465.65" y="301.95" width="13.70" height="2.40" rx="3.84" ry="1.20" fill="rgb(117,117,117)" filter="url(#bl)"/>
<rect x="481.10" y="301.35" width="17.00" height="3.60" rx="4.76" ry="1.80" fill="rgb(14,14,14)" filter="url(#bl)"/>
<text x="382.80" y="308.20" font-size="8.4" text-anchor="end" fill="#1a1a1a" stroke="#1a1a1a" stroke-width="0.18">COX1</text>
<rect x="386.40" y="314.90" width="55.10" height="15.10" fill="#bcbcbc" stroke="#1e1e1e" stroke-width="1.2"/>
<rect x="388.65" y="321.15" width="16.70" height="2.60" rx="4.68" ry="1.30" fill="rgb(22,22,22)" filter="url(#bl)"/>
<rect x="405.85" y="321.15" width="16.70" height="2.60" rx="4.68" ry="1.30" fill="rgb(22,22,22)" filter="url(#bl)"/>
<rect x="422.65" y="321.15" width="16.70" height="2.60" rx="4.68" ry="1.30" fill="rgb(22,22,22)" filter="url(#bl)"/>
<rect x="445.50" y="314.90" width="55.20" height="15.10" fill="#b2b2b2" stroke="#1e1e1e" stroke-width="1.2"/>
<rect x="447.25" y="321.15" width="16.70" height="2.60" rx="4.68" ry="1.30" fill="rgb(22,22,22)" filter="url(#bl)"/>
<rect x="464.15" y="321.15" width="16.70" height="2.60" rx="4.68" ry="1.30" fill="rgb(22,22,22)" filter="url(#bl)"/>
<rect x="481.25" y="321.15" width="16.70" height="2.60" rx="4.68" ry="1.30" fill="rgb(22,22,22)" filter="url(#bl)"/>
<text x="382.80" y="325.85" font-size="8.4" text-anchor="end" fill="#1a1a1a" stroke="#1a1a1a" stroke-width="0.18">TOM20</text>
<rect x="386.40" y="332.90" width="55.10" height="15.10" fill="#e2e2e2" stroke="#1e1e1e" stroke-width="1.2"/>
<rect x="390.00" y="340.06" width="14.00" height="2.40" rx="3.92" ry="1.20" fill="rgb(120,120,120)" filter="url(#bl)"/>
<rect x="407.65" y="340.16" width="13.10" height="2.20" rx="3.67" ry="1.10" fill="rgb(151,151,151)" filter="url(#bl)"/>
<rect x="422.50" y="339.66" width="17.00" height="3.20" rx="4.76" ry="1.60" fill="rgb(14,14,14)" filter="url(#bl)"/>
<rect x="445.50" y="332.90" width="55.20" height="15.10" fill="#aeaeae" stroke="#1e1e1e" stroke-width="1.2"/>
<rect x="447.25" y="339.76" width="16.70" height="3.00" rx="4.68" ry="1.50" fill="rgb(22,22,22)" filter="url(#bl)"/>
<rect x="464.15" y="339.76" width="16.70" height="3.00" rx="4.68" ry="1.50" fill="rgb(22,22,22)" filter="url(#bl)"/>
<rect x="481.55" y="339.96" width="16.10" height="2.60" rx="4.51" ry="1.30" fill="rgb(38,38,38)" filter="url(#bl)"/>
<text x="382.80" y="343.50" font-size="8.4" text-anchor="end" fill="#1a1a1a" stroke="#1a1a1a" stroke-width="0.18">HK2</text>
<rect x="386.40" y="350.90" width="55.10" height="15.10" fill="#e0e0e0" stroke="#1e1e1e" stroke-width="1.2"/>
<rect x="388.74" y="357.48" width="16.52" height="2.60" rx="4.63" ry="1.30" fill="rgb(30,30,30)" filter="url(#bl)"/>
<rect x="406.36" y="357.58" width="15.68" height="2.40" rx="4.39" ry="1.20" fill="rgb(60,60,60)" filter="url(#bl)"/>
<rect x="422.50" y="356.98" width="17.00" height="3.60" rx="4.76" ry="1.80" fill="rgb(14,14,14)" filter="url(#bl)"/>
<rect x="445.50" y="350.90" width="55.20" height="15.10" fill="#bababa" stroke="#1e1e1e" stroke-width="1.2"/>
<rect x="447.10" y="357.18" width="17.00" height="3.20" rx="4.76" ry="1.60" fill="rgb(14,14,14)" filter="url(#bl)"/>
<rect x="464.36" y="357.48" width="16.28" height="2.60" rx="4.56" ry="1.30" fill="rgb(34,34,34)" filter="url(#bl)"/>
<rect x="483.20" y="357.68" width="12.80" height="2.20" rx="3.58" ry="1.10" fill="rgb(134,134,134)" filter="url(#bl)"/>
<text x="382.80" y="361.15" font-size="8.4" text-anchor="end" fill="#1a1a1a" stroke="#1a1a1a" stroke-width="0.18">PKM2</text>
<rect x="386.40" y="368.90" width="55.10" height="15.10" fill="#dedede" stroke="#1e1e1e" stroke-width="1.2"/>
<rect x="388.65" y="375.15" width="16.70" height="2.60" rx="4.68" ry="1.30" fill="rgb(24,24,24)" filter="url(#bl)"/>
<rect x="405.85" y="375.15" width="16.70" height="2.60" rx="4.68" ry="1.30" fill="rgb(24,24,24)" filter="url(#bl)"/>
<rect x="422.65" y="375.15" width="16.70" height="2.60" rx="4.68" ry="1.30" fill="rgb(24,24,24)" filter="url(#bl)"/>
<rect x="445.50" y="368.90" width="55.20" height="15.10" fill="#b0b0b0" stroke="#1e1e1e" stroke-width="1.2"/>
<rect x="447.25" y="375.15" width="16.70" height="2.60" rx="4.68" ry="1.30" fill="rgb(22,22,22)" filter="url(#bl)"/>
<rect x="464.15" y="375.15" width="16.70" height="2.60" rx="4.68" ry="1.30" fill="rgb(22,22,22)" filter="url(#bl)"/>
<rect x="481.25" y="375.15" width="16.70" height="2.60" rx="4.68" ry="1.30" fill="rgb(22,22,22)" filter="url(#bl)"/>
<text x="382.80" y="378.80" font-size="8.4" text-anchor="end" fill="#1a1a1a" stroke="#1a1a1a" stroke-width="0.18">&#946;-Actin</text>
<line x1="500.60" y1="237.00" x2="504.20" y2="237.00" stroke="#222" stroke-width="1.0"/>
<text x="505.00" y="239.60" font-size="8.2" text-anchor="start" fill="#1a1a1a" stroke="#1a1a1a" stroke-width="0.18">37</text>
<line x1="500.60" y1="251.60" x2="504.20" y2="251.60" stroke="#222" stroke-width="1.0"/>
<text x="505.00" y="254.20" font-size="8.2" text-anchor="start" fill="#1a1a1a" stroke="#1a1a1a" stroke-width="0.18">37</text>
<line x1="500.60" y1="263.00" x2="504.20" y2="263.00" stroke="#222" stroke-width="1.0"/>
<text x="505.00" y="265.60" font-size="8.2" text-anchor="start" fill="#1a1a1a" stroke="#1a1a1a" stroke-width="0.18">75</text>
<line x1="500.60" y1="289.00" x2="504.20" y2="289.00" stroke="#222" stroke-width="1.0"/>
<text x="505.00" y="291.60" font-size="8.2" text-anchor="start" fill="#1a1a1a" stroke="#1a1a1a" stroke-width="0.18">37</text>
<line x1="500.60" y1="297.70" x2="504.20" y2="297.70" stroke="#222" stroke-width="1.0"/>
<text x="505.00" y="300.30" font-size="8.2" text-anchor="start" fill="#1a1a1a" stroke="#1a1a1a" stroke-width="0.18">50</text>
<line x1="500.60" y1="323.60" x2="504.20" y2="323.60" stroke="#222" stroke-width="1.0"/>
<text x="505.00" y="326.20" font-size="8.2" text-anchor="start" fill="#1a1a1a" stroke="#1a1a1a" stroke-width="0.18">15</text>
<line x1="500.60" y1="333.50" x2="504.20" y2="333.50" stroke="#222" stroke-width="1.0"/>
<text x="505.00" y="336.10" font-size="8.2" text-anchor="start" fill="#1a1a1a" stroke="#1a1a1a" stroke-width="0.18">150</text>
<line x1="500.60" y1="351.60" x2="504.20" y2="351.60" stroke="#222" stroke-width="1.0"/>
<text x="505.00" y="354.20" font-size="8.2" text-anchor="start" fill="#1a1a1a" stroke="#1a1a1a" stroke-width="0.18">50</text>
<line x1="500.60" y1="381.60" x2="504.20" y2="381.60" stroke="#222" stroke-width="1.0"/>
<text x="505.00" y="384.20" font-size="8.2" text-anchor="start" fill="#1a1a1a" stroke="#1a1a1a" stroke-width="0.18">37</text></svg>
</body></html>
